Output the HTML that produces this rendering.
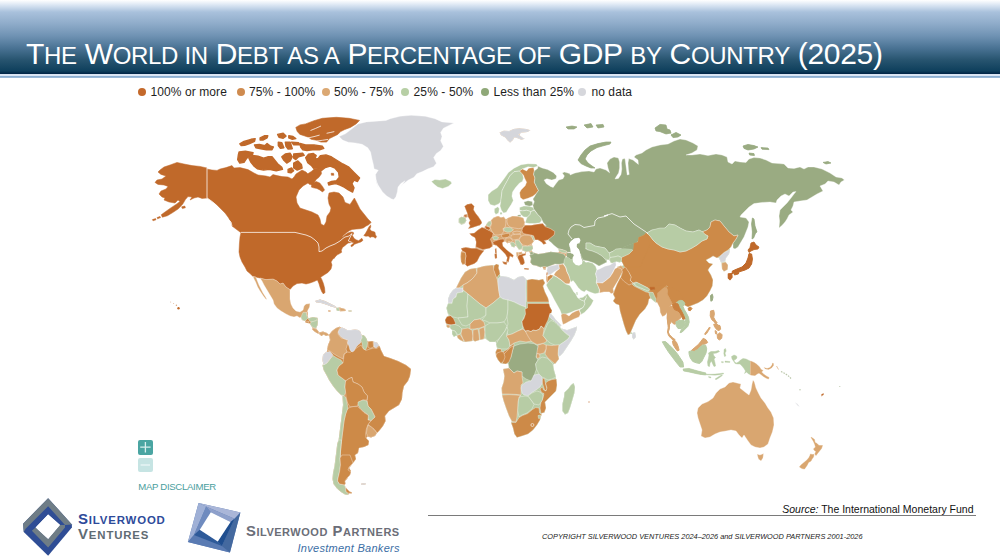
<!DOCTYPE html>
<html><head><meta charset="utf-8">
<style>
html,body{margin:0;padding:0;}
body{width:1000px;height:560px;position:relative;overflow:hidden;background:#fff;font-family:"Liberation Sans",sans-serif;}
#hdr{position:absolute;left:0;top:0;width:1000px;height:74px;background:linear-gradient(to bottom,#ffffff 0px,#dbe6f3 5px,#a9c1dc 12px,#8eabc9 24px,#6f92b3 36px,#4a7394 48px,#27546f 60px,#0e3f5c 71px,#06304f 72.5px,#02284a 73px,#02284a 74px);}
#hline{position:absolute;left:0;top:74px;width:1000px;height:3.8px;background:linear-gradient(to bottom,#dbe6f4 0px,#dbe6f4 1.9px,#8cafd2 2.1px,#8cafd2 3.4px,#c5d7e9 3.8px);}
#title{position:absolute;left:26px;top:36px;white-space:nowrap;color:#fff;font-size:30px;line-height:36px;letter-spacing:-0.33px;}
#title .s{font-size:24px;}
.lg{position:absolute;top:85px;font-size:12px;line-height:14px;color:#1e1e1e;white-space:nowrap;letter-spacing:0.1px;}
.dot{position:absolute;top:88px;width:8px;height:8px;border-radius:50%;}
</style></head>
<body>
<div id="hdr"></div><div id="hline"></div>
<div id="title">T<span class="s">HE</span> W<span class="s">ORLD IN</span> D<span class="s">EBT AS A</span> P<span class="s">ERCENTAGE OF</span> GDP <span class="s">BY</span> C<span class="s">OUNTRY</span> (2025)</div>

<div class="dot" style="left:138.2px;background:#c4692b"></div><div class="lg" style="left:150.4px">100% or more</div>
<div class="dot" style="left:236.7px;background:#cf8b4f"></div><div class="lg" style="left:249.0px">75% - 100%</div>
<div class="dot" style="left:321.8px;background:#dba873"></div><div class="lg" style="left:334.0px">50% - 75%</div>
<div class="dot" style="left:401.0px;background:#b7cfa5"></div><div class="lg" style="left:413.6px">25% - 50%</div>
<div class="dot" style="left:481.0px;background:#8fa878"></div><div class="lg" style="left:493.4px">Less than 25%</div>
<div class="dot" style="left:578.0px;background:#d6d7dc"></div><div class="lg" style="left:591.4px">no data</div>

<svg id="map" width="1000" height="560" viewBox="0 0 1000 560" style="position:absolute;left:0;top:0">
<g stroke="#ffffff" stroke-width="0.45" stroke-opacity="0.75" stroke-linejoin="round">
<path d="M295.8,127.4 L300.0,124.9 L305.6,123.9 L314.0,120.7 L322.4,118.3 L336.4,117.3 L349.0,118.3 L359.5,120.4 L356.0,123.9 L350.4,127.4 L344.8,129.5 L340.6,131.6 L337.8,134.4 L333.6,136.5 L329.4,138.6 L326.6,142.1 L321.0,142.1 L315.4,140.0 L311.2,139.3 L308.4,137.2 L304.2,135.8 L300.0,134.4 L297.2,131.6Z" fill="#c0692a" stroke="#c0692a" stroke-width="0.6" stroke-opacity="1"/>
<path d="M300.0,143.5 L305.6,144.9 L314.0,144.9 L322.4,146.3 L323.8,148.4 L319.6,149.8 L312.6,149.8 L307.0,150.5 L302.8,149.8 L300.7,147.0Z" fill="#c0692a" stroke="#c0692a" stroke-width="1.4" stroke-opacity="1"/>
<path d="M277.6,134.4 L283.2,133.3 L286.0,136.1 L283.2,138.3 L279.0,137.2Z" fill="#c0692a" stroke="#c0692a" stroke-width="1.4" stroke-opacity="1"/>
<path d="M288.8,135.8 L293.0,136.5 L295.8,138.6 L292.3,139.3 L288.8,137.9Z" fill="#c0692a" stroke="#c0692a" stroke-width="1.4" stroke-opacity="1"/>
<path d="M278.3,142.1 L281.8,142.8 L283.9,147.7 L280.4,148.4 L278.3,145.6Z" fill="#c0692a" stroke="#c0692a" stroke-width="1.4" stroke-opacity="1"/>
<path d="M285.3,142.1 L290.2,142.1 L292.3,148.7 L288.1,149.1 L286.0,146.3Z" fill="#c0692a" stroke="#c0692a" stroke-width="1.4" stroke-opacity="1"/>
<path d="M291.6,142.1 L298.6,142.8 L300.0,144.9 L293.7,144.9Z" fill="#c0692a" stroke="#c0692a" stroke-width="1.4" stroke-opacity="1"/>
<path d="M254.5,144.9 L259.4,144.5 L265.0,145.6 L267.1,143.5 L270.6,146.3 L273.4,147.0 L272.0,149.8 L266.4,149.8 L260.8,148.7 L255.9,147.7Z" fill="#c0692a" stroke="#c0692a" stroke-width="1.4" stroke-opacity="1"/>
<path d="M239.8,143.9 L244.0,141.4 L251.0,139.3 L255.2,138.6 L254.5,141.4 L249.6,143.5 L244.7,145.3 L241.2,145.6Z" fill="#c0692a" stroke="#c0692a" stroke-width="1.4" stroke-opacity="1"/>
<path d="M260.1,137.9 L264.3,135.8 L267.8,135.8 L267.1,137.9 L262.9,140.0 L260.1,140.0Z" fill="#c0692a" stroke="#c0692a" stroke-width="1.4" stroke-opacity="1"/>
<path d="M239.1,151.9 L245.4,151.2 L253.1,152.6 L252.4,154.7 L246.8,158.2 L244.0,162.4 L239.8,163.1 L237.7,159.6 L238.4,154.7Z" fill="#c0692a" stroke="#c0692a" stroke-width="1.4" stroke-opacity="1"/>
<path d="M248.9,158.2 L252.4,155.4 L258.0,156.1 L263.6,158.2 L267.8,156.8 L272.0,156.8 L274.8,160.3 L277.6,163.8 L281.8,167.3 L282.5,169.4 L276.2,170.8 L269.2,169.4 L263.6,170.1 L257.3,168.7 L253.8,165.9 L251.0,162.4Z" fill="#c0692a" stroke="#c0692a" stroke-width="1.4" stroke-opacity="1"/>
<path d="M281.8,156.8 L285.3,154.0 L290.2,153.3 L292.3,156.8 L290.2,161.0 L286.7,163.1 L283.9,160.3Z" fill="#c0692a" stroke="#c0692a" stroke-width="1.4" stroke-opacity="1"/>
<path d="M293.7,154.0 L302.8,153.3 L304.2,155.4 L298.6,156.8 L295.8,159.6 L293.7,158.2Z" fill="#c0692a" stroke="#c0692a" stroke-width="1.4" stroke-opacity="1"/>
<path d="M293.7,163.1 L297.9,161.0 L301.4,164.5 L302.1,168.0 L297.2,170.1 L293.7,168.0Z" fill="#c0692a" stroke="#c0692a" stroke-width="1.4" stroke-opacity="1"/>
<path d="M288.1,169.4 L291.6,168.0 L293.7,170.8 L290.9,172.9 L288.1,172.2Z" fill="#c0692a" stroke="#c0692a" stroke-width="1.4" stroke-opacity="1"/>
<path d="M305.7,157.7 L308.5,154.2 L313.4,153.5 L316.2,155.6 L314.8,159.1 L318.3,158.4 L320.4,155.6 L326.0,154.9 L331.6,157.0 L337.2,160.5 L342.8,164.0 L348.4,166.8 L354.0,172.4 L359.6,178.0 L357.5,181.5 L354.0,180.1 L351.9,183.6 L354.0,187.8 L352.6,192.0 L348.4,189.9 L344.2,187.1 L340.0,185.0 L335.8,183.6 L331.6,184.3 L328.8,185.0 L328.1,182.9 L331.6,181.5 L336.5,180.8 L339.3,177.3 L338.6,172.4 L335.1,168.2 L330.2,166.1 L325.3,167.5 L321.8,170.3 L319.7,168.9 L316.9,167.5 L313.4,168.2 L311.3,165.4 L307.8,162.6Z" fill="#c0692a" stroke="#c0692a" stroke-width="1.4" stroke-opacity="1"/>
<path d="M331.1,173.3 L333.6,173.3 L333.9,175.3 L331.4,175.3Z" fill="#c0692a" stroke="#c0692a" stroke-width="0.5" stroke-opacity="1"/>
<path d="M206.6,169.0 L212.0,170.0 L217.0,170.4 L220.0,169.0 L226.0,167.6 L232.0,165.6 L234.0,168.0 L240.0,167.6 L248.0,169.6 L254.0,173.0 L258.0,175.0 L266.0,176.0 L270.0,177.0 L273.0,174.6 L277.0,175.6 L282.0,176.6 L288.0,177.0 L292.0,179.0 L294.0,177.0 L296.0,174.0 L299.0,172.0 L302.0,170.0 L306.0,172.0 L309.0,175.0 L310.0,180.0 L308.0,183.0 L303.0,186.0 L299.0,190.0 L296.0,197.0 L297.0,203.0 L300.0,208.0 L306.0,210.0 L312.0,212.0 L318.0,215.0 L320.0,219.0 L321.0,224.0 L324.0,225.6 L326.0,222.0 L327.0,216.0 L330.0,212.0 L331.0,208.0 L329.0,204.0 L328.0,198.0 L329.0,193.0 L334.0,192.0 L339.0,193.0 L343.0,197.0 L345.0,202.4 L350.0,204.4 L353.0,200.0 L354.4,198.0 L357.0,203.0 L360.0,209.0 L364.0,214.0 L368.0,219.0 L371.0,222.0 L371.0,222.6 L369.0,224.6 L365.8,226.2 L363.4,227.9 L360.2,228.7 L356.1,229.1 L352.1,229.5 L349.3,230.7 L346.5,232.7 L344.1,234.7 L342.5,236.3 L342.9,236.7 L344.9,235.1 L347.7,233.1 L350.9,231.9 L353.3,232.3 L353.7,233.9 L352.1,235.1 L353.3,237.1 L354.5,238.7 L356.5,239.9 L358.6,240.7 L360.2,239.5 L361.8,238.3 L363.0,240.3 L361.0,241.9 L358.6,242.7 L356.5,243.5 L354.5,244.3 L352.9,245.9 L351.3,246.7 L350.9,245.5 L352.5,243.9 L354.1,242.7 L352.1,242.3 L350.1,242.7 L348.1,243.1 L346.5,244.3 L344.5,245.9 L342.5,247.5 L341.3,250.3 L341.7,252.3 L339.7,253.6 L337.3,254.8 L335.3,256.8 L333.7,258.8 L335.0,256.4 L333.0,259.0 L331.0,262.0 L332.0,265.0 L331.0,269.0 L328.0,272.4 L324.0,275.0 L321.0,277.0 L320.6,277.2 L321.8,279.4 L323.4,283.4 L324.6,288.0 L325.0,292.4 L323.4,294.0 L321.8,291.8 L320.2,287.8 L319.0,283.8 L317.4,280.0 L314.0,281.6 L310.0,283.0 L306.0,284.0 L302.0,283.0 L297.0,283.6 L293.0,286.0 L290.0,289.6 L286.0,287.0 L283.0,283.0 L280.0,284.0 L277.0,281.0 L273.0,279.0 L266.0,279.6 L260.0,278.0 L253.0,276.4 L250.0,273.6 L247.0,271.0 L245.0,267.0 L242.0,262.0 L240.0,257.0 L239.0,252.0 L239.4,244.0 L240.0,237.0 L241.0,232.4 L240.0,232.0 L236.0,229.0 L232.0,226.0 L231.0,222.0 L228.0,217.0 L225.0,213.0 L221.0,209.0 L217.0,205.0 L213.0,202.0 L209.0,199.0 L207.0,198.0 L202.0,198.4 L198.0,197.0 L194.0,198.0 L190.0,200.0 L192.0,197.0 L188.0,196.6 L185.4,199.6 L182.8,204.0 L178.4,208.8 L172.4,212.8 L167.4,215.8 L162.4,217.2 L161.2,214.8 L165.0,212.0 L170.0,208.4 L176.0,204.4 L180.0,201.6 L178.0,200.0 L175.0,203.0 L169.0,202.0 L164.0,200.0 L165.0,198.0 L162.0,197.0 L159.0,194.0 L161.0,191.0 L166.0,189.0 L168.0,186.4 L164.0,185.0 L158.0,184.4 L155.0,182.4 L157.0,180.0 L162.0,179.0 L166.0,176.0 L161.0,174.4 L158.0,172.0 L160.0,170.0 L164.0,167.0 L170.0,165.0 L177.0,162.4 L184.0,164.0 L192.0,165.6 L200.0,166.4 L207.0,168.0Z" fill="#c0692a" stroke="#c0692a" stroke-width="0.5" stroke-opacity="1"/>
<path d="M363.8,235.5 L365.4,233.5 L367.0,230.7 L368.2,228.3 L369.4,226.2 L370.6,225.0 L370.8,227.0 L369.8,229.1 L371.4,231.1 L373.4,231.5 L375.0,232.3 L375.4,234.7 L376.6,236.7 L375.4,238.3 L373.8,237.1 L371.8,236.7 L370.2,237.5 L368.2,236.0 L365.8,236.3Z" fill="#c0692a" stroke="#c0692a" stroke-width="0.5" stroke-opacity="1"/>
<path d="M339.1,136.6 L345.4,133.8 L351.0,129.6 L358.0,124.0 L366.4,121.9 L376.2,121.2 L386.0,120.5 L390.2,118.7 L400.0,116.3 L411.2,115.3 L425.2,116.3 L435.0,118.7 L442.0,121.9 L453.9,122.9 L449.0,125.4 L443.4,128.2 L440.6,132.4 L442.0,136.6 L440.6,140.8 L443.4,146.4 L440.6,150.6 L436.4,153.4 L433.6,157.6 L436.4,163.2 L433.6,166.7 L428.0,168.8 L422.4,171.6 L416.8,173.7 L414.0,177.2 L408.4,180.0 L402.8,184.2 L400.0,188.0 L405.0,180.7 L400.8,183.5 L398.0,187.0 L397.3,191.9 L395.9,196.8 L393.8,199.6 L391.7,198.9 L386.8,196.1 L382.6,191.9 L378.4,185.6 L375.6,180.0 L378.3,188.0 L376.2,180.0 L375.5,174.4 L378.3,170.2 L374.1,168.8 L373.4,164.6 L372.0,159.0 L370.6,152.0 L367.8,147.8 L362.2,144.3 L355.2,142.9 L348.2,142.2 L342.6,140.1Z" fill="#d5d6db"/>
<path d="M253.0,276.4 L256.0,277.0 L257.0,280.0 L259.0,285.0 L261.0,289.0 L263.0,293.0 L265.0,296.0 L267.0,299.6 L265.6,299.0 L263.0,295.6 L260.0,291.0 L257.6,287.0 L255.6,282.0 L254.0,279.0Z" fill="#d9a670"/>
<path d="M260.0,278.0 L266.0,279.6 L273.0,279.0 L277.0,281.0 L280.0,284.0 L283.0,283.0 L286.0,287.0 L290.0,289.6 L290.0,295.0 L290.0,299.0 L291.0,304.0 L293.0,308.0 L296.0,311.0 L300.0,312.0 L303.0,310.0 L304.0,306.0 L306.0,304.0 L310.0,303.6 L309.6,307.0 L308.0,310.0 L307.0,312.4 L304.0,313.0 L302.4,316.0 L300.0,318.0 L297.0,316.0 L294.0,317.0 L290.0,316.0 L286.0,314.0 L281.0,311.0 L277.0,308.0 L274.0,304.0 L273.0,300.0 L270.0,295.0 L267.0,290.0 L264.0,285.0 L262.0,281.0Z" fill="#d9a670"/>
<path d="M315.0,301.0 L320.0,299.6 L325.0,301.0 L330.0,303.6 L335.0,306.0 L338.0,308.0 L334.0,307.6 L329.0,305.6 L324.0,303.6 L319.0,302.4Z" fill="#d5d6db"/>
<path d="M431.4,181.5 L434.9,179.4 L439.8,180.1 L445.4,179.1 L451.0,181.5 L451.7,183.6 L448.2,186.4 L442.6,188.5 L437.7,187.1 L434.2,184.3Z" fill="#b7cca5"/>
<path d="M488.1,194.8 L491.6,191.3 L497.2,187.8 L501.4,182.2 L505.6,176.6 L508.4,172.4 L514.0,168.2 L521.0,164.7 L528.0,163.7 L536.4,164.0 L537.8,166.1 L533.6,167.5 L528.0,166.8 L522.4,168.9 L519.6,171.0 L514.0,171.7 L509.8,175.9 L507.7,180.1 L504.9,185.0 L502.1,190.6 L501.4,196.2 L500.7,201.8 L498.6,203.9 L494.4,205.7 L490.2,204.6 L488.1,200.4Z" fill="#b7cca5"/>
<path d="M501.4,196.2 L502.1,190.6 L504.9,185.0 L507.7,180.1 L509.8,175.9 L514.0,171.7 L519.6,171.0 L522.4,173.8 L523.5,178.0 L522.4,181.5 L519.6,182.9 L515.4,187.8 L512.6,192.0 L511.9,196.2 L513.3,200.4 L511.2,204.6 L508.4,208.8 L506.3,212.3 L503.5,213.0 L501.4,210.2 L500.0,206.0 L500.7,201.8Z" fill="#b7cca5"/>
<path d="M519.6,171.0 L522.4,168.9 L526.6,171.0 L528.7,168.2 L533.6,167.5 L534.3,171.0 L533.6,174.5 L535.0,178.0 L534.3,182.2 L536.4,186.4 L538.5,190.6 L536.4,193.4 L532.9,196.2 L528.0,198.3 L523.1,199.7 L520.3,197.6 L519.6,192.7 L521.0,189.9 L525.2,185.7 L526.6,182.2 L524.5,178.0 L523.5,175.2Z" fill="#cd8a48"/>
<path d="M523.8,202.1 L528.0,200.7 L532.2,201.5 L532.9,205.3 L529.4,206.3 L525.2,205.3Z" fill="#9aab82"/>
<path d="M519.6,207.4 L523.8,206.0 L529.4,206.3 L533.3,207.4 L534.3,210.2 L530.8,211.6 L526.6,210.2 L522.4,210.9 L519.6,210.2Z" fill="#b7cca5"/>
<path d="M519.6,210.9 L523.1,210.9 L526.6,210.2 L530.8,211.6 L530.1,214.4 L527.3,217.2 L523.8,216.9 L520.7,214.4Z" fill="#b7cca5"/>
<path d="M530.8,211.6 L534.3,210.2 L537.8,214.4 L540.6,217.2 L542.0,220.0 L539.9,222.8 L535.0,223.5 L529.4,223.5 L525.2,222.8 L526.6,218.6 L527.3,217.2 L530.1,214.4Z" fill="#b7cca5"/>
<path d="M517.5,215.1 L520.7,214.7 L521.0,216.5 L517.9,216.5Z" fill="#9aab82"/>
<path d="M494.4,208.8 L497.9,206.7 L499.3,208.8 L498.6,213.0 L495.8,214.4 L494.4,212.3Z" fill="#b7cca5"/>
<path d="M500.0,212.3 L502.1,212.3 L502.1,214.4 L500.0,214.4Z" fill="#b7cca5"/>
<path d="M464.3,215.1 L467.1,214.7 L467.5,216.9 L465.0,217.2Z" fill="#c0692a" stroke="#c0692a" stroke-width="0.5" stroke-opacity="1"/>
<path d="M458.7,219.3 L461.5,217.2 L465.0,217.5 L466.1,220.0 L465.0,223.5 L461.5,224.9 L458.7,222.8Z" fill="#b7cca5"/>
<path d="M157.0,217.6 L160.0,216.4 L160.6,217.6 L157.6,218.8Z" fill="#c0692a" stroke="#c0692a" stroke-width="0.5" stroke-opacity="1"/>
<path d="M152.4,219.6 L155.6,218.6 L156.0,219.8 L153.0,220.8Z" fill="#c0692a" stroke="#c0692a" stroke-width="0.5" stroke-opacity="1"/>
<path d="M181.6,206.8 L184.8,206.0 L185.4,207.8 L182.4,208.6Z" fill="#c0692a" stroke="#c0692a" stroke-width="0.5" stroke-opacity="1"/>
<path d="M312.0,183.6 L316.2,181.5 L319.7,182.9 L322.5,186.4 L324.6,189.9 L322.5,192.0 L319.7,189.9 L316.9,188.5 L313.4,187.8 L311.3,187.1Z" fill="#c0692a" stroke="#c0692a" stroke-width="0.5" stroke-opacity="1"/>
<path d="M305.0,178.0 L307.8,173.8 L312.0,171.0 L314.8,168.2 L318.3,167.9 L321.1,170.3 L321.5,173.8 L319.0,177.3 L316.2,179.4 L314.5,182.2 L312.0,185.0 L309.2,184.3 L306.7,181.5Z" fill="#c0692a" stroke="#c0692a" stroke-width="0.5" stroke-opacity="1"/>
<path d="M537.8,166.1 L542.0,167.9 L547.6,169.6 L553.2,172.4 L556.7,175.9 L556.0,178.7 L551.8,180.1 L546.9,178.7 L544.1,180.1 L546.2,183.6 L550.4,186.4 L553.2,187.5 L556.0,183.6 L558.8,180.1 L563.0,178.7 L564.4,175.9 L562.3,173.1 L564.4,172.1 L567.9,173.1 L570.0,173.8 L570.0,175.0 L575.0,173.0 L582.0,171.6 L589.0,171.0 L594.0,172.0 L596.0,169.0 L600.0,168.0 L606.0,170.0 L609.6,172.8 L608.0,168.0 L607.0,163.0 L610.0,159.0 L614.0,157.0 L618.4,158.0 L619.6,162.0 L619.6,168.0 L618.6,173.0 L616.0,177.0 L615.0,179.0 L618.4,178.4 L621.0,174.4 L621.8,169.0 L621.4,163.0 L622.4,159.0 L625.0,158.6 L625.6,163.0 L626.4,169.0 L627.2,175.0 L629.2,174.4 L628.4,169.0 L628.0,163.0 L628.8,158.6 L633.0,160.0 L636.0,162.4 L638.4,164.4 L638.0,160.0 L634.0,157.0 L636.0,155.0 L642.0,153.0 L646.0,150.0 L652.0,147.0 L660.0,145.0 L668.0,144.0 L674.0,141.0 L680.0,139.0 L686.0,140.0 L693.0,143.0 L698.0,146.0 L697.0,150.0 L692.0,153.0 L686.0,155.0 L692.0,155.0 L700.0,154.0 L708.0,155.6 L716.0,154.0 L722.0,155.0 L727.0,157.0 L728.0,162.0 L732.0,164.0 L735.0,161.0 L740.0,162.0 L746.0,162.4 L749.0,159.0 L754.0,157.6 L760.0,158.0 L766.0,160.0 L772.0,163.0 L779.0,163.6 L784.0,164.0 L788.0,168.0 L794.0,168.4 L800.0,167.0 L804.0,169.0 L808.0,167.0 L814.0,167.0 L822.0,169.0 L830.0,173.0 L836.0,177.0 L842.0,178.0 L844.4,180.0 L841.0,182.0 L839.0,185.0 L834.0,182.0 L828.0,181.0 L825.0,184.0 L820.0,186.0 L823.0,191.0 L817.0,194.0 L812.0,197.0 L807.0,200.0 L800.0,201.0 L794.0,202.0 L793.0,206.0 L791.0,210.0 L793.0,212.0 L789.0,215.0 L787.0,219.0 L785.0,222.0 L782.4,225.0 L779.0,228.0 L779.6,221.0 L779.0,216.0 L780.0,210.0 L783.0,207.0 L787.0,203.0 L791.0,198.0 L794.0,194.0 L796.0,191.6 L793.0,192.0 L789.0,196.0 L785.0,194.0 L781.0,196.0 L777.0,200.0 L776.0,203.0 L770.0,202.0 L762.0,202.4 L754.0,203.6 L749.0,207.0 L745.0,211.0 L741.0,215.0 L740.0,217.0 L746.0,218.0 L749.0,222.0 L748.0,227.0 L746.0,232.0 L744.0,237.0 L741.0,242.0 L738.0,247.0 L735.0,249.0 L733.0,248.0 L733.0,243.0 L736.0,239.0 L738.0,235.0 L734.0,236.0 L729.0,232.0 L724.0,226.0 L720.0,221.0 L715.0,220.0 L711.0,222.0 L710.0,227.0 L707.0,230.0 L702.0,232.0 L699.0,230.0 L693.0,232.0 L686.0,231.0 L680.0,228.0 L675.0,225.0 L669.0,224.0 L665.0,228.0 L660.0,230.0 L652.0,230.0 L647.0,233.0 L644.0,237.0 L640.0,239.0 L637.0,243.0 L636.0,248.0 L630.0,249.0 L624.0,251.0 L619.0,250.0 L614.0,251.0 L609.0,253.0 L605.0,248.0 L600.0,247.0 L595.0,246.0 L590.0,243.0 L586.0,243.0 L586.0,248.0 L582.0,249.0 L579.0,243.0 L580.0,241.0 L579.0,238.0 L574.0,239.0 L570.0,243.0 L570.2,247.6 L570.9,252.5 L566.7,252.1 L562.5,249.7 L558.3,248.7 L554.1,245.5 L550.6,242.0 L548.5,240.6 L549.2,236.4 L542.9,225.2 L546.2,225.6 L543.4,222.8 L542.0,220.0 L540.6,217.2 L537.8,214.4 L535.7,211.6 L533.6,208.8 L532.9,205.3 L534.3,201.8 L532.9,199.0 L534.3,196.9 L536.4,193.4 L538.5,190.6 L536.4,186.4 L534.3,182.2 L535.0,178.0 L533.6,174.5 L534.3,171.0 L537.8,168.2Z" fill="#9aab82"/>
<path d="M461.0,251.8 L461.0,251.8 L460.7,256.7 L460.7,256.7 L461.0,261.6 L461.0,261.6 L461.0,261.6 L462.4,264.4 L462.4,264.4 L462.4,264.4 L464.3,264.2 L464.5,264.2 L464.6,264.2 L464.7,264.2 L464.8,264.3 L465.0,264.3 L465.1,264.4 L465.2,264.4 L465.3,264.5 L465.4,264.6 L467.3,266.5 L467.3,266.5 L467.3,266.5 L470.8,265.1 L474.3,263.7 L474.3,263.7 L474.3,263.7 L477.1,261.6 L477.1,261.6 L477.1,261.6 L479.8,256.1 L479.9,256.0 L480.0,255.9 L482.0,253.2 L482.0,253.2 L484.1,250.7 L484.1,250.7 L484.1,250.7 L484.1,250.5 L484.1,250.4 L484.1,250.3 L484.1,250.1 L484.2,250.0 L484.2,249.9 L484.3,249.8 L484.4,249.7 L484.5,249.6 L484.5,249.5 L484.7,249.4 L484.8,249.3 L484.9,249.3 L485.0,249.2 L485.1,249.2 L489.7,248.3 L489.7,248.3 L489.7,248.3 L492.5,246.2 L492.5,246.2 L492.5,246.2 L492.5,246.0 L492.5,245.9 L492.5,245.8 L492.6,245.7 L492.6,245.6 L492.7,245.4 L492.8,245.3 L492.8,245.2 L492.9,245.1 L493.0,245.1 L493.1,245.0 L493.2,244.9 L493.4,244.9 L493.5,244.9 L493.6,244.8 L493.7,244.8 L493.9,244.8 L494.0,244.8 L494.1,244.9 L496.4,245.4 L496.5,245.4 L496.6,245.5 L496.7,245.5 L496.8,245.6 L496.9,245.7 L497.0,245.8 L497.3,246.1 L497.4,246.2 L497.4,246.3 L497.5,246.4 L497.6,246.5 L497.6,246.6 L497.6,246.7 L497.7,246.9 L497.7,246.9 L497.7,246.9 L497.8,246.9 L498.0,247.0 L498.1,247.0 L498.2,247.1 L498.3,247.1 L498.4,247.2 L498.5,247.3 L499.5,248.3 L502.3,251.1 L505.0,253.8 L505.1,253.9 L505.2,254.0 L506.9,257.0 L507.0,257.1 L507.0,257.2 L507.1,257.3 L507.1,257.4 L507.1,257.5 L507.1,257.7 L507.1,257.8 L507.1,257.9 L506.5,260.9 L506.5,260.9 L506.5,261.0 L506.4,261.1 L506.4,261.3 L506.3,261.4 L506.3,261.5 L506.2,261.6 L506.1,261.7 L506.0,261.7 L505.9,261.8 L505.8,261.9 L505.7,261.9 L505.5,262.0 L505.4,262.0 L505.3,262.0 L505.2,262.0 L505.0,262.0 L502.3,261.6 L502.3,261.6 L502.3,261.6 L503.7,264.1 L503.7,264.1 L503.7,264.1 L506.5,264.7 L506.5,264.7 L506.5,264.6 L506.9,263.2 L507.0,263.0 L507.0,262.9 L507.1,262.8 L507.2,262.7 L507.3,262.6 L507.3,262.5 L507.4,262.5 L507.5,262.4 L507.7,262.3 L507.8,262.3 L507.9,262.3 L508.0,262.2 L508.1,262.2 L508.3,262.2 L508.4,262.2 L508.5,262.3 L508.6,262.3 L508.6,262.3 L508.6,262.3 L509.3,258.8 L509.3,258.8 L509.6,257.6 L509.6,257.4 L509.7,257.3 L509.8,257.2 L509.8,257.1 L509.9,257.0 L510.0,256.9 L510.1,256.8 L510.2,256.8 L510.3,256.7 L510.4,256.7 L510.6,256.6 L510.7,256.6 L510.8,256.6 L511.0,256.6 L511.1,256.6 L511.2,256.6 L511.3,256.7 L511.4,256.7 L512.8,257.4 L512.8,257.4 L512.8,257.4 L513.5,255.3 L513.5,255.3 L513.5,255.3 L506.6,249.7 L506.4,249.6 L503.3,246.5 L503.2,246.4 L503.1,246.3 L503.1,246.2 L503.0,246.1 L503.0,245.9 L502.9,245.8 L502.5,243.6 L502.5,243.4 L502.4,243.3 L502.5,243.2 L502.5,243.0 L502.5,242.9 L502.5,242.8 L502.6,242.7 L502.7,242.6 L502.7,242.5 L502.8,242.4 L502.9,242.3 L503.0,242.2 L504.0,241.6 L504.1,241.5 L504.2,241.5 L504.3,241.4 L504.5,241.4 L504.6,241.4 L504.7,241.4 L504.8,241.4 L505.0,241.4 L505.1,241.4 L505.2,241.5 L505.3,241.5 L505.4,241.6 L505.6,241.7 L505.6,241.8 L505.7,241.9 L505.8,242.0 L505.8,242.0 L505.8,242.0 L507.9,243.4 L507.9,243.4 L507.9,243.3 L507.9,243.3 L508.0,243.2 L508.1,243.1 L508.2,243.0 L508.2,242.9 L508.4,242.9 L508.5,242.8 L508.6,242.7 L508.7,242.7 L508.8,242.7 L509.0,242.6 L509.1,242.6 L509.2,242.6 L509.3,242.6 L509.5,242.7 L509.6,242.7 L509.7,242.8 L509.8,242.8 L509.9,242.9 L510.0,243.0 L510.1,243.1 L510.2,243.2 L510.2,243.3 L510.3,243.4 L511.4,246.2 L511.4,246.2 L511.4,246.2 L514.2,247.6 L514.2,247.6 L514.2,247.6 L514.6,246.8 L514.7,246.7 L514.7,246.6 L514.8,246.5 L514.9,246.4 L515.0,246.3 L515.1,246.2 L515.2,246.2 L515.3,246.1 L515.5,246.1 L515.6,246.1 L515.7,246.1 L515.8,246.1 L516.0,246.1 L516.1,246.1 L516.2,246.1 L516.3,246.2 L516.4,246.2 L516.5,246.3 L516.6,246.4 L516.7,246.5 L516.8,246.6 L516.9,246.7 L516.9,246.8 L517.0,246.9 L517.0,246.9 L517.0,246.9 L519.1,249.7 L519.1,249.7 L519.1,249.7 L519.1,249.7 L521.0,249.2 L521.1,249.2 L521.2,249.2 L521.4,249.2 L521.5,249.2 L521.6,249.2 L521.7,249.3 L521.9,249.3 L522.0,249.4 L522.1,249.4 L522.2,249.5 L522.3,249.6 L522.3,249.7 L522.4,249.8 L522.5,249.9 L522.5,250.1 L522.6,250.2 L522.6,250.3 L522.6,250.4 L522.6,250.4 L522.6,250.5 L522.6,250.6 L522.6,250.8 L522.6,250.9 L522.6,251.0 L522.7,250.9 L522.8,250.9 L522.9,250.8 L523.0,250.8 L523.1,250.8 L523.3,250.8 L523.4,250.8 L523.5,250.8 L523.6,250.8 L523.8,250.9 L524.5,251.2 L524.6,251.2 L524.8,251.3 L524.9,251.4 L525.0,251.4 L525.0,251.5 L525.1,251.6 L525.2,251.8 L525.2,251.9 L525.3,252.0 L525.3,252.1 L525.3,252.2 L525.3,252.4 L525.3,252.5 L525.3,252.6 L525.3,252.7 L525.3,252.9 L525.2,253.0 L525.1,253.1 L525.1,253.2 L525.0,253.3 L524.9,253.4 L524.8,253.5 L524.7,253.5 L524.5,253.6 L524.4,253.6 L524.3,253.7 L524.2,253.7 L523.5,253.7 L523.4,253.7 L523.2,253.7 L523.1,253.7 L523.0,253.7 L522.9,253.6 L522.7,253.6 L522.6,253.5 L522.5,253.5 L522.4,253.4 L522.4,253.3 L522.3,253.2 L522.2,253.1 L522.2,252.9 L522.1,252.8 L522.1,252.7 L522.0,252.3 L522.0,252.2 L522.0,252.1 L522.0,251.9 L522.0,251.8 L522.0,251.7 L522.0,251.7 L522.0,251.7 L521.9,251.7 L521.8,251.8 L521.7,251.8 L521.6,251.9 L519.2,252.3 L519.1,252.4 L518.9,252.4 L518.8,252.4 L518.7,252.3 L518.6,252.3 L518.4,252.3 L518.3,252.2 L518.2,252.2 L518.1,252.1 L518.1,252.1 L518.1,252.1 L516.3,252.5 L516.3,252.5 L516.3,252.5 L516.7,256.7 L516.7,256.7 L516.7,256.7 L516.8,256.7 L516.9,256.8 L517.1,256.8 L517.2,256.9 L517.3,257.0 L517.3,257.1 L517.4,257.2 L517.5,257.3 L517.6,257.4 L517.6,257.5 L517.6,257.6 L517.7,257.7 L517.7,257.8 L517.7,258.0 L517.7,258.1 L517.7,258.1 L517.7,258.1 L519.1,260.9 L519.1,261.0 L520.5,264.4 L520.5,264.4 L520.5,264.4 L522.6,265.1 L522.6,265.1 L522.6,265.1 L524.7,263.0 L524.7,263.0 L524.7,263.0 L524.0,259.5 L524.0,259.5 L524.0,259.5 L523.2,257.4 L523.1,257.3 L523.1,257.1 L523.1,257.0 L523.1,256.9 L523.1,256.7 L523.1,256.6 L523.1,256.5 L523.2,256.4 L523.2,256.3 L523.3,256.1 L523.4,256.0 L523.5,255.9 L523.6,255.9 L523.7,255.8 L523.8,255.7 L523.9,255.7 L524.0,255.6 L525.4,255.3 L525.4,255.3 L525.4,255.3 L526.1,253.5 L526.1,253.5 L526.1,253.4 L526.1,253.4 L526.0,253.3 L526.0,253.2 L526.0,253.0 L526.0,252.9 L526.0,252.8 L526.0,252.6 L526.1,252.5 L526.1,252.4 L526.2,252.3 L526.2,252.2 L526.3,252.1 L526.4,252.0 L526.5,251.9 L526.6,251.8 L526.7,251.8 L526.8,251.7 L527.0,251.7 L527.1,251.7 L528.2,251.5 L528.3,251.5 L528.4,251.5 L528.5,251.5 L528.7,251.5 L528.8,251.6 L528.9,251.6 L529.0,251.7 L529.1,251.8 L529.2,251.9 L529.3,252.0 L529.4,252.1 L529.5,252.2 L529.5,252.3 L529.6,252.4 L529.6,252.5 L529.6,252.5 L529.6,252.5 L530.1,253.6 L530.2,253.7 L530.2,253.8 L530.2,254.0 L530.2,254.1 L530.2,254.2 L530.2,254.3 L530.2,254.5 L530.2,254.6 L530.1,254.7 L530.1,254.8 L530.0,254.9 L529.9,255.0 L529.8,255.1 L529.8,255.2 L529.6,255.3 L529.6,255.3 L529.6,255.3 L530.9,258.4 L530.9,258.6 L530.9,258.7 L530.9,258.8 L530.9,258.9 L530.9,259.1 L530.9,259.2 L530.3,262.3 L530.3,262.3 L530.3,262.3 L532.4,265.1 L532.4,265.1 L532.4,265.1 L536.5,265.8 L536.6,265.8 L536.7,265.9 L540.1,267.2 L540.1,267.2 L540.1,267.2 L541.6,267.0 L541.7,266.9 L541.8,266.9 L541.9,267.0 L542.1,267.0 L542.2,267.0 L542.3,267.1 L542.4,267.1 L542.5,267.2 L542.6,267.3 L542.7,267.4 L542.8,267.5 L542.9,267.6 L542.9,267.7 L543.0,267.8 L543.0,267.9 L543.1,268.1 L543.1,268.2 L543.1,268.3 L543.1,268.4 L543.0,268.6 L543.0,268.7 L542.9,268.8 L542.9,268.8 L542.9,268.9 L542.9,268.9 L545.2,269.7 L545.3,269.7 L545.3,269.7 L545.7,268.4 L545.7,268.3 L545.7,268.3 L545.7,268.2 L545.7,268.1 L545.8,267.9 L545.8,267.8 L545.9,267.7 L545.9,267.6 L546.0,267.5 L546.1,267.4 L546.2,267.3 L546.3,267.3 L546.4,267.2 L546.5,267.2 L546.6,267.1 L546.8,267.1 L546.9,267.1 L547.0,267.1 L547.1,267.1 L547.3,267.1 L547.8,267.2 L547.8,267.2 L547.8,267.2 L550.6,265.8 L550.7,265.8 L554.5,264.2 L554.6,264.2 L554.7,264.2 L554.9,264.1 L555.0,264.1 L555.1,264.1 L559.0,264.4 L559.0,264.4 L559.0,264.4 L563.2,263.7 L563.2,263.7 L563.2,263.7 L566.7,261.6 L566.7,261.6 L566.7,261.6 L565.5,259.2 L565.4,259.1 L565.4,259.0 L565.4,258.9 L565.4,258.7 L565.4,258.6 L565.4,258.5 L565.4,258.4 L565.6,257.1 L565.7,257.0 L565.7,256.9 L565.8,256.8 L565.8,256.7 L565.9,256.6 L566.0,256.5 L566.1,256.4 L566.2,256.3 L566.3,256.2 L566.4,256.2 L566.5,256.1 L566.6,256.1 L566.7,256.1 L566.8,256.1 L566.9,256.1 L567.1,256.1 L567.2,256.1 L567.3,256.1 L567.5,256.2 L567.6,256.2 L567.7,256.3 L567.8,256.4 L567.9,256.4 L568.0,256.5 L568.1,256.6 L568.1,256.7 L568.1,256.7 L568.1,256.7 L570.9,257.4 L570.9,257.4 L570.9,257.4 L573.0,255.3 L573.0,255.3 L573.0,255.3 L570.2,253.2 L570.2,253.2 L570.2,253.2 L567.7,252.7 L567.6,252.7 L567.5,252.6 L567.3,252.6 L567.2,252.5 L567.1,252.4 L567.0,252.3 L566.9,252.2 L566.9,252.1 L566.8,252.0 L566.8,251.9 L566.7,251.8 L566.7,251.7 L566.7,251.5 L566.7,251.4 L566.7,251.3 L566.7,251.1 L566.7,251.1 L566.7,251.1 L562.5,249.7 L562.5,249.7 L562.5,249.7 L558.3,249.0 L558.3,249.0 L558.3,249.0 L558.9,250.8 L558.9,250.9 L559.0,251.0 L559.0,251.2 L559.0,251.3 L558.9,251.4 L558.9,251.6 L558.9,251.7 L558.8,251.8 L558.8,251.9 L558.7,252.0 L558.6,252.1 L558.5,252.2 L558.4,252.3 L558.3,252.3 L558.2,252.4 L558.0,252.4 L557.9,252.5 L557.8,252.5 L557.7,252.5 L557.5,252.5 L550.6,251.8 L550.6,251.8 L550.6,251.8 L543.6,253.2 L543.6,253.2 L538.3,253.9 L538.1,253.9 L538.0,253.9 L537.9,253.9 L537.7,253.8 L533.4,252.6 L533.3,252.5 L533.2,252.5 L533.1,252.4 L533.0,252.4 L532.9,252.3 L532.8,252.2 L532.7,252.1 L532.6,252.0 L532.6,251.9 L532.4,251.5 L532.4,251.5 L532.4,251.5 L532.3,251.4 L532.2,251.4 L532.1,251.3 L532.0,251.2 L532.0,251.1 L531.9,251.0 L531.9,250.8 L531.9,250.7 L531.8,250.6 L531.8,250.5 L531.8,250.3 L531.8,250.2 L531.9,250.1 L531.9,250.0 L532.0,249.9 L532.0,249.8 L532.1,249.7 L533.1,248.3 L533.1,248.3 L533.1,248.3 L532.4,245.5 L532.4,245.5 L532.4,245.5 L532.3,245.4 L532.2,245.3 L532.1,245.2 L532.0,245.1 L532.0,245.0 L531.9,244.9 L531.9,244.8 L531.8,244.7 L531.8,244.6 L531.8,244.4 L531.8,244.3 L531.8,244.2 L531.8,244.1 L531.9,243.9 L531.9,243.8 L532.0,243.7 L532.1,243.6 L533.8,241.3 L533.8,241.3 L533.8,241.2 L533.8,241.1 L533.8,241.0 L533.9,240.9 L533.9,240.8 L534.0,240.6 L534.1,240.5 L534.2,240.4 L534.3,240.4 L534.4,240.3 L534.5,240.2 L534.6,240.2 L535.0,240.0 L535.1,240.0 L535.2,239.9 L535.3,239.9 L535.5,239.9 L537.6,239.9 L537.8,239.9 L537.9,239.9 L538.0,239.9 L538.1,240.0 L538.2,240.0 L538.3,240.1 L541.3,241.9 L541.4,242.0 L541.5,242.1 L541.6,242.2 L543.6,244.5 L543.6,244.5 L543.6,244.5 L546.4,243.4 L546.4,243.4 L546.4,243.4 L545.5,242.3 L545.5,242.1 L545.4,242.0 L545.4,241.9 L545.3,241.8 L545.3,241.7 L545.3,241.6 L545.3,241.4 L545.3,241.3 L545.3,241.2 L545.3,241.1 L545.4,240.9 L545.4,240.8 L545.5,240.7 L545.6,240.6 L545.7,240.5 L545.8,240.5 L545.9,240.4 L546.0,240.3 L546.1,240.3 L546.2,240.2 L546.3,240.2 L547.8,239.9 L547.8,239.9 L547.8,239.9 L550.6,237.8 L550.6,237.8 L554.1,235.0 L554.1,235.0 L554.1,235.0 L554.8,231.5 L554.8,231.5 L554.8,231.5 L550.6,228.7 L550.6,228.7 L550.6,228.7 L545.4,226.7 L545.3,226.7 L545.1,226.6 L545.0,226.5 L544.9,226.5 L544.8,226.4 L544.8,226.3 L542.9,223.5 L542.9,223.5 L542.9,223.5 L538.0,224.1 L538.0,224.1 L531.1,225.2 L531.0,225.2 L530.9,225.2 L525.7,225.2 L525.6,225.2 L525.5,225.2 L525.3,225.1 L525.2,225.1 L525.1,225.0 L525.0,225.0 L524.9,224.9 L524.8,224.8 L524.7,224.7 L524.6,224.6 L524.6,224.5 L524.5,224.4 L524.5,224.3 L524.5,224.2 L524.4,224.0 L524.4,223.9 L524.4,223.8 L524.5,223.6 L524.7,222.4 L524.7,222.4 L524.7,222.4 L523.3,218.0 L523.3,217.9 L523.3,217.9 L518.4,216.5 L518.4,216.5 L518.4,216.5 L512.8,216.1 L512.8,216.1 L512.8,216.1 L507.2,218.2 L507.2,218.2 L507.2,218.2 L507.1,218.3 L507.1,218.4 L507.0,218.5 L506.9,218.6 L506.8,218.7 L506.7,218.8 L506.6,218.9 L506.5,218.9 L506.3,219.0 L506.2,219.0 L506.1,219.0 L506.0,219.0 L505.8,219.0 L505.7,219.0 L505.6,218.9 L505.5,218.9 L505.3,218.8 L505.2,218.8 L505.1,218.7 L505.0,218.6 L505.0,218.5 L503.7,216.8 L503.7,216.8 L503.7,216.8 L501.4,217.4 L501.2,217.4 L501.1,217.4 L501.0,217.4 L500.8,217.4 L500.7,217.4 L500.6,217.3 L500.5,217.3 L498.1,216.1 L498.1,216.1 L498.1,216.1 L493.9,217.5 L493.9,217.5 L493.9,217.5 L491.1,220.3 L491.1,220.3 L491.1,220.3 L491.0,220.4 L491.0,220.5 L490.9,220.6 L490.8,220.7 L490.7,220.8 L490.6,220.9 L490.5,220.9 L490.4,221.0 L488.3,221.7 L488.3,221.7 L488.3,221.7 L486.2,224.5 L486.2,224.5 L486.2,224.5 L486.2,224.6 L486.2,224.7 L486.2,224.8 L486.2,225.0 L486.1,225.1 L486.1,225.2 L486.0,225.3 L485.9,225.4 L485.8,225.5 L485.8,225.6 L485.7,225.7 L485.6,225.7 L485.4,225.8 L485.3,225.8 L485.2,225.9 L485.1,225.9 L485.0,225.9 L484.8,225.9 L484.8,225.9 L484.8,225.9 L484.9,226.1 L484.9,226.3 L484.9,226.4 L484.9,226.5 L484.9,226.6 L484.9,226.8 L484.8,226.9 L484.8,227.0 L484.7,227.1 L484.7,227.2 L484.6,227.3 L484.5,227.4 L484.4,227.5 L484.3,227.6 L484.2,227.6 L484.1,227.7 L483.9,227.7 L483.8,227.7 L483.7,227.8 L483.6,227.8 L483.4,227.8 L483.3,227.7 L483.2,227.7 L482.0,227.3 L482.0,227.3 L482.0,227.3 L477.8,230.1 L477.8,230.1 L474.6,232.7 L474.5,232.8 L474.3,232.8 L474.2,232.9 L474.1,232.9 L473.9,233.0 L469.4,233.6 L469.4,233.6 L469.4,233.6 L471.5,235.7 L471.5,235.7 L471.5,235.7 L474.5,237.5 L474.7,237.6 L474.7,237.7 L474.8,237.8 L474.9,237.9 L475.0,238.0 L475.0,238.1 L475.1,238.2 L475.1,238.3 L476.1,241.8 L476.1,241.9 L476.1,242.0 L476.1,242.1 L476.1,242.2 L475.7,246.9 L475.7,246.9 L475.7,246.9 L475.7,247.0 L475.7,247.2 L475.7,247.3 L475.6,247.4 L475.6,247.5 L475.5,247.6 L475.5,247.7 L475.4,247.8 L475.3,247.9 L475.2,248.0 L475.1,248.1 L475.0,248.2 L474.9,248.2 L474.8,248.2 L474.7,248.3 L474.5,248.3 L474.4,248.3 L471.6,248.3 L471.5,248.3 L471.4,248.3 L465.9,247.3 L465.9,247.3 L465.9,247.3 L461.0,248.3 L461.0,248.3 L461.0,248.3 L461.8,250.0 L461.9,250.1 L461.9,250.2 L461.9,250.3 L462.0,250.4 L462.0,250.6 L462.0,250.7 L461.9,250.8 L461.9,250.9 L461.9,251.1 L461.8,251.2 L461.7,251.3 L461.7,251.4 L461.6,251.5 L461.5,251.6 L461.4,251.6 L461.3,251.7 L461.1,251.8 L461.0,251.8ZM496.3,248.3 L496.3,248.3 L496.3,248.3 L494.9,249.0 L494.9,249.0 L494.9,249.0 L495.2,252.7 L495.2,252.8 L495.2,253.0 L495.2,253.1 L495.1,253.2 L495.1,253.3 L495.0,253.4 L495.0,253.6 L494.9,253.7 L494.8,253.7 L494.7,253.8 L494.6,253.9 L494.6,253.9 L494.6,253.9 L495.0,258.8 L495.0,258.8 L495.1,258.8 L497.1,258.1 L497.1,258.1 L497.1,258.1 L496.7,253.2 L496.7,253.2 L496.7,253.2 L496.7,253.0 L496.7,252.9 L496.7,252.8 L496.7,252.7 L496.7,252.5 L496.7,252.5 L496.7,252.5 L496.3,248.3ZM499.6,132.4 L499.6,132.4 L501.0,135.2 L501.0,135.2 L501.0,135.2 L504.9,137.2 L505.0,137.2 L505.1,137.3 L505.2,137.4 L505.3,137.5 L505.4,137.5 L507.3,140.1 L507.3,140.1 L507.3,140.1 L510.1,142.5 L510.1,142.5 L510.1,142.5 L512.9,140.1 L512.9,140.1 L512.9,140.1 L513.8,138.2 L513.9,138.1 L514.0,138.0 L514.0,137.9 L514.1,137.8 L514.2,137.8 L514.3,137.7 L514.5,137.6 L514.6,137.6 L514.7,137.6 L514.8,137.5 L514.9,137.5 L515.1,137.5 L515.2,137.5 L515.3,137.6 L517.0,138.0 L517.2,138.0 L521.3,139.7 L521.3,139.7 L521.3,139.7 L524.8,138.7 L524.8,138.7 L524.8,138.7 L522.1,137.4 L522.0,137.3 L521.9,137.2 L520.0,135.7 L519.9,135.6 L519.8,135.5 L519.7,135.4 L519.6,135.3 L519.6,135.2 L519.5,135.1 L519.5,134.9 L519.5,134.8 L519.5,134.7 L519.5,134.6 L519.5,134.4 L519.5,134.3 L519.6,134.2 L519.6,134.1 L519.7,134.0 L519.7,133.9 L519.8,133.8 L519.9,133.7 L520.0,133.6 L520.1,133.5 L521.7,132.6 L521.8,132.5 L522.0,132.5 L522.1,132.4 L522.2,132.4 L522.3,132.4 L527.6,132.1 L527.6,132.1 L527.6,132.1 L530.4,130.3 L530.4,130.3 L530.4,130.3 L526.2,128.9 L526.2,128.9 L526.2,128.9 L519.2,128.2 L519.2,128.2 L519.2,128.2 L513.6,128.9 L513.6,128.9 L513.6,128.9 L509.7,130.8 L509.6,130.9 L509.5,130.9 L509.3,131.0 L509.2,131.0 L509.1,131.0 L503.8,130.7 L503.8,130.7 L503.8,130.7 L499.6,132.4ZM524.0,267.9 L524.0,267.9 L524.3,269.3 L524.3,269.3 L524.3,269.3 L528.4,269.7 L528.5,269.7 L528.5,269.7 L528.9,268.6 L528.9,268.6 L528.9,268.6 L524.0,267.9ZM458.9,218.2 L458.9,218.2 L458.9,222.4 L458.9,222.4 L458.9,222.4 L461.7,224.1 L461.7,224.1 L461.7,224.1 L464.9,223.1 L464.9,223.1 L464.9,223.1 L466.3,220.3 L466.3,220.3 L466.3,220.3 L465.7,218.6 L465.6,218.5 L465.6,218.4 L465.6,218.3 L465.6,218.1 L465.6,218.0 L465.6,217.9 L465.6,217.8 L465.7,217.6 L465.7,217.5 L465.8,217.4 L465.9,217.3 L465.9,217.2 L466.0,217.1 L466.1,217.1 L466.2,217.0 L466.4,216.9 L466.5,216.9 L466.6,216.9 L466.7,216.9 L467.1,216.8 L467.3,216.8 L467.4,216.8 L467.5,216.8 L467.6,216.9 L467.7,216.9 L467.9,216.9 L468.0,217.0 L468.1,217.1 L468.2,217.2 L468.2,217.2 L468.3,217.3 L468.4,217.4 L469.7,219.7 L469.8,219.8 L469.8,219.9 L469.9,220.0 L469.9,220.2 L469.9,220.3 L469.9,220.4 L469.9,220.6 L469.9,220.7 L469.8,220.8 L469.8,220.9 L468.7,223.1 L468.7,223.1 L468.7,223.1 L469.7,225.2 L469.8,225.3 L469.8,225.4 L469.9,225.6 L469.9,225.7 L469.9,225.8 L469.9,225.9 L469.8,226.1 L469.8,226.2 L469.8,226.3 L469.7,226.4 L469.6,226.5 L468.0,228.7 L468.0,228.7 L468.0,228.7 L471.5,228.0 L471.5,228.0 L479.9,225.2 L479.9,225.2 L479.9,225.2 L482.0,223.1 L482.0,223.1 L482.0,223.1 L481.3,221.0 L481.3,221.0 L481.3,221.0 L478.5,216.8 L478.5,216.8 L475.8,213.4 L475.7,213.2 L473.9,210.2 L473.8,210.1 L473.8,210.0 L473.7,209.9 L473.7,209.8 L473.7,209.7 L473.7,209.5 L473.7,209.4 L473.7,209.3 L474.3,206.3 L474.3,206.3 L474.3,206.3 L471.5,203.5 L471.5,203.5 L471.5,203.5 L467.3,204.2 L467.3,204.2 L467.3,204.2 L464.5,206.3 L464.5,206.3 L464.5,206.3 L465.9,209.8 L467.2,213.0 L467.2,213.1 L467.3,213.2 L467.3,213.4 L467.3,213.5 L467.3,213.6 L467.2,213.8 L467.2,213.9 L467.2,214.0 L467.1,214.1 L467.0,214.2 L466.9,214.3 L466.9,214.4 L466.8,214.5 L466.7,214.6 L466.5,214.7 L466.4,214.7 L466.3,214.7 L466.2,214.8 L463.8,215.1 L463.8,215.1 L463.8,215.2 L463.8,215.2 L463.9,215.3 L463.9,215.5 L463.9,215.6 L463.9,215.7 L463.9,215.8 L463.9,216.0 L463.8,216.1 L463.8,216.2 L463.7,216.3 L463.7,216.4 L463.6,216.5 L463.5,216.6 L463.4,216.7 L463.3,216.8 L463.2,216.8 L463.1,216.9 L463.0,216.9 L462.9,216.9 L462.7,217.0 L462.6,217.0 L462.5,216.9 L462.4,216.9 L461.7,216.8 L461.7,216.8 L461.7,216.8 L458.9,218.2Z" fill="#d9a670" stroke="none"/>
<path d="M464.5,206.3 L467.3,204.2 L471.5,203.5 L474.3,206.3 L473.6,209.8 L475.7,213.3 L478.5,216.8 L481.3,221.0 L482.0,223.1 L479.9,225.2 L475.7,226.6 L471.5,228.0 L468.0,228.7 L470.1,225.9 L468.7,223.1 L470.1,220.3 L468.0,216.8 L467.3,213.3 L465.9,209.8Z" fill="#c0692a"/>
<path d="M463.8,215.1 L466.6,214.7 L467.3,216.8 L464.5,217.1Z" fill="#c0692a"/>
<path d="M458.9,218.2 L461.7,216.8 L465.2,217.5 L466.3,220.3 L464.9,223.1 L461.7,224.1 L458.9,222.4Z" fill="#b7cca5"/>
<path d="M469.4,233.6 L474.3,232.9 L477.8,230.1 L482.0,227.3 L486.2,228.7 L489.7,230.8 L493.2,232.9 L492.5,236.4 L490.4,239.2 L491.8,242.7 L492.5,246.2 L489.7,248.3 L486.2,249.0 L482.7,249.7 L479.2,248.3 L475.7,246.9 L476.1,242.0 L475.0,237.8 L471.5,235.7Z" fill="#c0692a"/>
<path d="M494.9,249.0 L496.3,248.3 L496.7,252.5 L495.3,253.9Z" fill="#c0692a"/>
<path d="M461.0,248.3 L465.9,247.3 L471.5,248.3 L476.4,248.3 L479.9,249.7 L484.1,250.7 L482.0,253.2 L479.9,256.0 L478.5,258.8 L477.1,261.6 L474.3,263.7 L470.8,265.1 L467.3,266.5 L465.2,264.4 L465.2,260.2 L465.9,256.0 L465.2,252.5 L462.4,251.1Z" fill="#c0692a"/>
<path d="M461.0,251.8 L465.2,252.5 L465.9,256.0 L465.2,260.2 L465.2,264.1 L462.4,264.4 L461.0,261.6 L460.7,256.7Z" fill="#cd8a48"/>
<path d="M484.8,225.9 L488.3,226.6 L490.4,228.7 L488.3,230.1 L485.5,228.7Z" fill="#c0692a"/>
<path d="M486.2,224.5 L488.3,221.7 L491.1,220.7 L491.5,223.8 L489.7,226.6 L487.6,226.3Z" fill="#b7cca5"/>
<path d="M491.1,220.3 L493.9,217.5 L498.1,216.1 L500.9,217.5 L503.7,216.8 L505.8,219.6 L505.8,223.8 L505.1,227.3 L503.0,228.7 L503.7,231.5 L501.6,234.3 L498.1,235.0 L494.6,235.0 L493.2,232.9 L491.1,230.1 L490.4,227.3 L491.5,223.8Z" fill="#d9a670"/>
<path d="M507.2,218.2 L512.8,216.1 L518.4,216.5 L523.3,217.9 L524.7,222.4 L524.0,225.9 L522.6,228.0 L518.4,228.7 L514.2,228.0 L510.7,227.3 L507.9,225.2 L506.9,221.7Z" fill="#d9a670"/>
<path d="M503.3,228.7 L506.5,227.3 L510.7,227.7 L513.5,229.7 L510.7,231.9 L507.2,232.2 L504.4,231.1Z" fill="#b7cca5"/>
<path d="M501.6,234.7 L505.8,233.6 L509.3,233.3 L510.0,235.7 L507.2,237.5 L503.7,237.8 L501.6,236.7Z" fill="#cd8a48"/>
<path d="M492.5,237.1 L496.0,236.1 L498.8,237.5 L497.4,239.5 L493.9,239.9Z" fill="#b7cca5"/>
<path d="M512.8,231.9 L517.0,231.1 L521.2,231.9 L519.8,233.9 L515.6,234.3 L512.8,233.6Z" fill="#d9a670"/>
<path d="M511.4,235.0 L515.6,234.3 L520.5,234.3 L521.2,236.7 L518.4,239.2 L513.5,239.9 L510.7,237.8Z" fill="#d9a670"/>
<path d="M505.8,238.1 L510.0,237.8 L512.8,240.6 L510.7,242.0 L508.6,241.3 L507.9,243.4 L505.8,242.0Z" fill="#d9a670"/>
<path d="M520.5,236.7 L524.0,235.0 L529.6,235.3 L532.4,237.8 L533.8,241.3 L531.7,244.1 L527.5,245.9 L523.3,245.1 L520.5,242.7 L519.1,239.9Z" fill="#d9a670"/>
<path d="M531.0,235.0 L533.5,235.7 L535.2,239.9 L533.5,240.6 L532.4,237.8Z" fill="#b7cca5"/>
<path d="M522.6,228.0 L525.4,225.2 L531.0,225.2 L538.0,224.1 L542.9,223.5 L545.0,226.6 L550.6,228.7 L554.8,231.5 L554.1,235.0 L550.6,237.8 L547.8,239.9 L544.3,240.6 L546.4,243.4 L543.6,244.5 L541.5,242.0 L538.0,239.9 L535.2,239.9 L533.5,235.7 L531.0,235.0 L526.8,234.3 L523.3,233.6 L521.9,230.8Z" fill="#c0692a"/>
<path d="M522.6,246.2 L527.5,246.2 L532.4,245.5 L533.1,248.3 L531.0,251.1 L526.1,251.8 L522.6,250.4Z" fill="#b7cca5"/>
<path d="M514.9,240.6 L518.4,239.9 L520.5,242.7 L522.6,246.2 L521.9,249.0 L519.1,249.7 L517.0,246.9 L515.6,244.1Z" fill="#b7cca5"/>
<path d="M510.0,242.7 L513.5,242.0 L515.6,244.8 L514.2,247.6 L511.4,246.2Z" fill="#b7cca5"/>
<path d="M492.5,242.0 L496.0,240.6 L500.2,239.2 L503.7,238.9 L504.4,241.3 L502.3,242.7 L503.0,246.2 L506.5,249.7 L510.0,252.5 L513.5,255.3 L512.8,257.4 L510.0,256.0 L509.3,258.8 L508.6,262.3 L506.5,260.9 L507.2,257.4 L505.1,253.9 L502.3,251.1 L499.5,248.3 L496.7,245.5 L493.9,244.8Z" fill="#c0692a"/>
<path d="M502.3,261.6 L507.2,262.3 L506.5,264.7 L503.7,264.1Z" fill="#c0692a"/>
<path d="M494.6,253.9 L496.7,253.2 L497.1,258.1 L495.0,258.8Z" fill="#c0692a"/>
<path d="M517.7,255.3 L521.9,253.9 L526.1,253.5 L525.4,255.3 L522.6,256.0 L524.0,259.5 L524.7,263.0 L522.6,265.1 L520.5,264.4 L519.1,260.9 L517.7,258.1Z" fill="#c0692a"/>
<path d="M524.0,267.9 L528.9,268.6 L528.5,269.7 L524.3,269.3Z" fill="#c0692a"/>
<path d="M516.3,252.5 L518.1,252.1 L518.4,256.0 L516.7,256.7Z" fill="#d9a670"/>
<path d="M518.4,252.5 L521.9,251.8 L522.3,253.9 L519.1,254.9Z" fill="#d9a670"/>
<path d="M529.6,255.3 L533.1,252.5 L538.0,253.9 L543.6,253.2 L550.6,251.8 L557.6,252.5 L563.2,253.9 L566.0,255.3 L565.3,258.8 L566.7,261.6 L563.2,263.7 L559.0,264.4 L554.8,264.1 L550.6,265.8 L547.8,267.2 L544.3,266.5 L540.1,267.2 L536.6,265.8 L532.4,265.1 L530.3,262.3 L531.0,258.8Z" fill="#9aab82"/>
<path d="M529.6,252.5 L532.4,251.5 L533.5,253.9 L530.7,254.9Z" fill="#9aab82"/>
<path d="M542.9,268.9 L545.7,268.3 L545.3,269.7Z" fill="#cd8a48"/>
<path d="M558.3,249.0 L562.5,249.7 L566.7,251.1 L566.0,252.9 L561.8,252.5 L559.0,251.1Z" fill="#b7cca5"/>
<path d="M563.9,253.9 L566.0,253.5 L567.4,256.0 L565.3,256.3Z" fill="#d9a670"/>
<path d="M566.7,252.5 L570.2,253.2 L573.0,255.3 L570.9,257.4 L568.1,256.7 L566.7,254.6Z" fill="#9aab82"/>
<path d="M499.6,132.4 L503.8,130.7 L509.4,131.0 L513.6,128.9 L519.2,128.2 L526.2,128.9 L530.4,130.3 L527.6,132.1 L522.0,132.4 L518.5,134.5 L522.0,137.3 L524.8,138.7 L521.3,139.7 L517.1,138.0 L514.3,137.3 L512.9,140.1 L510.1,142.5 L507.3,140.1 L505.2,137.3 L501.0,135.2Z" fill="#d5d6db"/>
<path d="M823.0,162.4 L823.0,162.4 L826.0,164.0 L826.0,164.0 L826.0,164.0 L831.0,163.0 L831.0,163.0 L831.0,163.0 L828.0,161.6 L828.0,161.6 L828.0,161.6 L823.0,162.4ZM761.0,147.6 L761.0,147.6 L762.0,149.2 L762.0,149.2 L762.0,149.2 L769.0,149.6 L769.0,149.6 L769.0,149.6 L768.0,148.0 L768.0,148.0 L768.0,148.0 L761.0,147.6ZM728.4,274.0 L728.4,274.0 L728.4,278.0 L728.4,278.0 L728.4,278.0 L730.0,279.6 L730.0,279.6 L730.0,279.6 L732.0,277.0 L732.0,277.0 L732.0,277.0 L731.8,275.1 L731.8,275.0 L731.8,274.9 L731.8,274.8 L731.8,274.6 L731.9,274.5 L731.9,274.4 L732.0,274.3 L732.1,274.2 L732.1,274.1 L732.2,274.0 L732.3,273.9 L732.4,273.9 L732.6,273.8 L732.7,273.8 L732.8,273.7 L732.9,273.7 L733.1,273.7 L733.2,273.7 L733.3,273.7 L733.4,273.7 L733.6,273.8 L733.7,273.8 L733.8,273.9 L733.9,274.0 L734.0,274.1 L734.1,274.2 L734.2,274.3 L734.2,274.4 L734.3,274.5 L734.3,274.6 L734.3,274.7 L734.4,275.0 L734.4,275.0 L734.4,275.0 L738.4,274.0 L738.4,274.0 L738.4,274.0 L738.8,272.5 L738.9,272.4 L738.9,272.3 L739.0,272.2 L739.1,272.1 L739.2,272.0 L739.3,271.9 L739.4,271.8 L739.5,271.7 L739.6,271.7 L739.8,271.6 L739.9,271.6 L740.0,271.6 L740.0,271.6 L740.0,271.6 L745.0,270.0 L745.0,270.0 L745.0,270.0 L749.0,268.0 L749.0,268.0 L749.0,268.0 L751.6,264.0 L751.6,264.0 L751.6,264.0 L752.4,259.0 L752.4,259.0 L752.4,259.0 L751.6,254.0 L751.6,254.0 L751.6,254.0 L750.8,253.9 L750.7,253.9 L750.5,253.8 L750.4,253.8 L750.3,253.7 L750.2,253.6 L750.1,253.5 L750.0,253.5 L749.9,253.4 L749.9,253.2 L749.8,253.1 L749.8,253.0 L749.7,252.9 L749.7,252.8 L749.7,252.6 L749.7,252.5 L749.7,252.4 L749.7,252.2 L749.8,252.1 L749.8,252.0 L749.9,251.9 L750.0,251.8 L750.1,251.7 L750.1,251.6 L750.2,251.5 L750.9,251.1 L751.0,251.0 L751.1,251.0 L753.8,249.7 L753.9,249.6 L754.1,249.6 L754.2,249.6 L758.0,249.0 L758.0,249.0 L758.0,249.0 L759.0,247.0 L759.0,247.0 L759.0,247.0 L756.2,245.1 L756.1,245.1 L756.0,245.0 L755.9,244.9 L755.9,244.8 L754.0,242.0 L754.0,242.0 L754.0,242.0 L751.0,243.0 L751.0,243.0 L751.0,243.0 L750.1,247.3 L750.0,247.4 L750.0,247.5 L749.9,247.6 L749.9,247.7 L749.8,247.8 L748.0,250.0 L748.0,250.0 L748.0,250.0 L749.0,252.4 L749.0,252.4 L749.1,252.6 L749.1,252.7 L749.1,252.8 L749.1,253.0 L749.1,253.1 L749.1,253.2 L749.1,253.3 L749.1,253.5 L749.0,253.6 L749.0,253.6 L749.0,253.6 L748.0,257.9 L748.0,258.0 L748.0,258.1 L746.1,262.8 L746.0,262.9 L746.0,263.0 L745.9,263.1 L745.8,263.2 L742.2,266.8 L742.1,266.9 L742.0,267.0 L741.9,267.0 L741.8,267.1 L737.0,269.0 L737.0,269.0 L732.4,271.0 L732.4,271.0 L732.4,271.0 L732.2,272.6 L732.1,272.7 L732.1,272.8 L732.0,272.9 L732.0,273.1 L731.9,273.2 L731.8,273.3 L731.7,273.4 L731.6,273.4 L731.5,273.5 L731.4,273.6 L731.3,273.6 L731.2,273.6 L731.0,273.7 L728.4,274.0ZM743.0,146.0 L743.0,146.0 L744.0,148.4 L744.0,148.4 L744.0,148.4 L748.0,150.0 L748.0,150.0 L748.0,150.0 L754.0,149.0 L754.0,149.0 L754.0,149.0 L758.0,147.0 L758.0,147.0 L758.0,147.0 L754.0,145.6 L754.0,145.6 L748.0,144.4 L748.0,144.4 L748.0,144.4 L743.0,146.0ZM752.0,239.0 L752.0,239.0 L753.6,238.0 L753.6,238.0 L753.6,238.0 L755.5,233.4 L755.5,233.2 L755.6,233.1 L755.6,233.0 L755.7,232.9 L755.8,232.9 L755.9,232.8 L757.0,232.0 L757.0,232.0 L757.0,232.0 L755.0,226.1 L755.0,226.0 L755.0,225.9 L754.0,219.0 L754.0,219.0 L754.0,219.0 L752.4,218.0 L752.4,218.0 L752.4,218.0 L751.6,224.0 L751.6,224.0 L751.6,224.0 L752.4,231.9 L752.4,232.0 L752.4,232.1 L752.0,239.0ZM749.0,153.0 L749.0,153.0 L749.6,155.0 L749.6,155.0 L749.6,155.0 L754.4,155.6 L754.4,155.6 L754.4,155.6 L754.0,153.6 L754.0,153.6 L754.0,153.6 L749.0,153.0ZM580.0,250.0 L580.0,250.0 L581.0,256.0 L581.0,256.0 L581.0,256.0 L583.0,260.0 L583.0,260.0 L583.0,260.0 L587.9,261.0 L588.1,261.0 L593.9,263.0 L594.0,263.0 L594.1,263.1 L599.0,266.0 L599.0,266.0 L599.0,266.0 L607.0,262.0 L607.0,262.0 L607.0,262.0 L606.9,261.8 L606.8,261.7 L606.7,261.6 L606.7,261.4 L606.7,261.3 L606.7,261.2 L606.6,261.1 L606.7,260.9 L606.7,260.8 L606.7,260.7 L606.8,260.6 L606.8,260.4 L606.9,260.3 L607.0,260.2 L607.1,260.1 L607.2,260.0 L607.3,260.0 L607.4,259.9 L607.5,259.9 L607.6,259.8 L607.7,259.8 L607.9,259.8 L608.0,259.8 L608.1,259.8 L608.3,259.8 L609.0,260.0 L609.1,260.0 L609.2,260.1 L609.3,260.1 L609.4,260.2 L609.5,260.3 L609.6,260.4 L609.7,260.5 L609.8,260.6 L609.8,260.7 L611.0,263.0 L611.0,263.0 L611.0,263.0 L615.0,263.5 L615.0,263.5 L615.0,263.5 L615.5,262.4 L615.6,262.3 L615.7,262.2 L615.7,262.1 L615.8,262.0 L615.9,262.0 L616.0,261.9 L616.2,261.8 L616.3,261.8 L616.4,261.8 L616.5,261.7 L616.6,261.7 L616.8,261.7 L616.9,261.7 L617.0,261.8 L620.0,262.5 L620.0,262.5 L620.0,262.4 L620.0,262.4 L620.1,262.4 L620.2,262.3 L620.2,262.2 L620.3,262.1 L620.5,262.0 L620.6,262.0 L620.7,261.9 L620.8,261.9 L620.9,261.9 L621.0,261.9 L621.2,261.9 L621.3,261.9 L621.4,261.9 L621.5,261.9 L621.7,262.0 L621.8,262.0 L621.9,262.1 L622.0,262.2 L622.1,262.3 L622.2,262.4 L622.2,262.5 L622.3,262.6 L623.0,264.0 L623.1,264.2 L623.1,264.3 L623.1,264.4 L623.2,264.5 L623.2,264.7 L623.1,264.8 L623.1,264.9 L623.1,265.0 L623.0,265.2 L623.0,265.3 L622.9,265.4 L622.8,265.5 L622.7,265.6 L622.6,265.7 L622.5,265.7 L622.4,265.8 L622.3,265.8 L622.2,265.9 L622.1,265.9 L621.9,265.9 L621.8,265.9 L621.7,265.9 L621.6,265.9 L621.4,265.9 L621.3,265.8 L621.2,265.7 L621.1,265.7 L621.0,265.6 L621.0,265.6 L621.0,265.6 L617.0,267.0 L617.0,267.0 L617.0,267.0 L617.0,271.0 L617.0,271.0 L617.0,271.0 L619.2,274.4 L619.2,274.4 L619.2,274.4 L619.5,274.3 L619.6,274.2 L619.7,274.2 L619.9,274.2 L620.0,274.2 L620.1,274.2 L620.3,274.2 L620.4,274.3 L620.5,274.3 L620.6,274.4 L620.7,274.5 L620.8,274.5 L620.9,274.6 L621.0,274.7 L621.1,274.8 L621.1,274.9 L621.2,275.1 L621.2,275.2 L621.2,275.3 L621.3,275.4 L621.3,275.6 L621.2,275.7 L621.2,275.8 L621.2,275.9 L620.8,277.0 L620.8,277.1 L620.7,277.2 L620.6,277.3 L620.6,277.4 L620.5,277.5 L620.0,278.0 L620.0,278.0 L620.0,278.0 L617.0,284.0 L617.0,284.0 L613.0,294.0 L613.0,294.0 L613.0,294.0 L614.7,297.3 L614.7,297.4 L614.8,297.6 L614.8,297.7 L614.8,297.8 L614.8,297.9 L614.8,298.0 L614.8,298.2 L614.7,298.3 L614.7,298.4 L614.6,298.5 L614.6,298.6 L613.0,301.0 L613.0,301.0 L613.0,301.0 L616.0,304.0 L616.0,304.0 L616.0,304.0 L618.3,304.8 L618.4,304.8 L618.5,304.9 L618.6,304.9 L618.7,305.0 L618.8,305.1 L618.9,305.2 L618.9,305.3 L619.0,305.4 L619.1,305.5 L619.1,305.6 L619.1,305.8 L620.0,311.0 L620.0,311.0 L624.0,325.0 L624.0,325.0 L626.0,331.0 L626.0,331.0 L628.0,335.0 L628.0,335.0 L628.0,335.0 L630.0,334.0 L630.0,334.0 L630.0,334.0 L630.1,333.9 L630.3,333.8 L630.4,333.7 L630.5,333.7 L630.6,333.7 L630.7,333.6 L630.9,333.6 L631.0,333.6 L631.1,333.7 L631.3,333.7 L631.4,333.7 L631.5,333.8 L631.6,333.8 L631.7,333.9 L631.8,334.0 L631.9,334.1 L632.0,334.2 L632.0,334.3 L632.1,334.4 L632.1,334.6 L632.2,334.7 L632.2,334.8 L632.2,334.9 L632.2,335.1 L632.0,337.0 L632.0,337.0 L632.0,337.0 L633.6,339.6 L633.6,339.6 L633.6,339.6 L636.0,337.0 L636.0,337.0 L636.0,337.0 L635.0,332.0 L635.0,332.0 L635.0,332.0 L632.9,332.8 L632.8,332.8 L632.7,332.9 L632.5,332.9 L632.4,332.9 L632.3,332.9 L632.2,332.9 L632.0,332.8 L631.9,332.8 L631.8,332.7 L631.7,332.7 L631.6,332.6 L631.5,332.5 L631.4,332.4 L631.4,332.3 L631.3,332.2 L631.2,332.1 L631.2,331.9 L631.2,331.8 L631.2,331.7 L631.1,331.6 L631.2,331.4 L631.2,331.3 L631.2,331.2 L631.3,331.1 L636.0,320.1 L636.0,320.0 L636.1,319.9 L639.9,314.1 L640.0,314.0 L640.1,313.9 L645.0,309.0 L645.0,309.0 L645.0,309.0 L648.0,304.0 L648.0,304.0 L648.0,304.0 L648.9,299.6 L648.9,299.5 L649.0,299.4 L649.0,299.3 L649.1,299.1 L649.2,299.0 L649.2,298.9 L649.3,298.9 L649.5,298.8 L649.6,298.7 L649.8,298.6 L649.9,298.5 L650.1,298.5 L650.2,298.5 L650.3,298.5 L650.4,298.4 L650.6,298.5 L650.7,298.5 L650.8,298.5 L650.9,298.6 L651.0,298.6 L651.1,298.7 L651.2,298.7 L651.3,298.8 L653.1,300.6 L653.2,300.7 L655.6,302.5 L655.7,302.5 L655.8,302.6 L655.8,302.7 L655.9,302.8 L656.0,302.9 L656.0,303.0 L656.0,303.0 L656.0,303.0 L658.0,300.0 L658.0,300.0 L659.9,296.2 L660.0,296.1 L660.1,296.0 L660.1,295.9 L663.0,293.0 L663.0,293.0 L663.0,293.0 L665.0,290.0 L665.0,290.0 L665.0,290.0 L665.0,289.9 L665.1,289.8 L665.1,289.7 L665.2,289.6 L665.3,289.5 L665.4,289.4 L665.5,289.3 L665.6,289.2 L665.7,289.2 L665.8,289.1 L665.9,289.1 L666.0,289.0 L666.1,289.0 L666.3,289.0 L666.4,289.0 L666.5,289.0 L666.6,289.1 L666.8,289.1 L666.9,289.2 L667.0,289.2 L668.1,290.0 L668.1,290.0 L668.2,290.1 L668.3,290.1 L668.4,290.2 L668.5,290.3 L668.6,290.4 L668.6,290.5 L668.7,290.6 L668.7,290.8 L668.7,290.9 L668.7,291.0 L668.8,291.1 L668.7,291.2 L668.7,291.4 L668.0,295.0 L668.0,295.0 L668.0,295.0 L671.0,299.0 L671.0,299.0 L672.0,300.0 L672.0,300.0 L672.0,300.0 L676.0,302.0 L676.0,302.0 L676.0,302.0 L679.9,303.0 L680.0,303.0 L680.1,303.1 L688.0,307.0 L688.0,307.0 L688.0,307.0 L698.0,303.0 L698.0,303.0 L698.0,303.0 L703.0,300.0 L703.0,300.0 L703.0,300.0 L707.0,296.0 L707.0,296.0 L707.0,296.0 L710.0,291.0 L710.0,291.0 L712.4,286.0 L712.4,286.0 L712.4,286.0 L713.0,280.0 L713.0,280.0 L713.0,280.0 L711.0,275.0 L711.0,275.0 L711.0,275.0 L708.4,270.7 L708.4,270.6 L708.3,270.5 L708.3,270.3 L708.2,270.2 L708.2,270.1 L708.2,269.9 L708.3,269.8 L708.3,269.7 L708.3,269.6 L708.4,269.4 L708.5,269.3 L709.9,267.1 L710.0,267.0 L710.1,266.9 L713.0,264.0 L713.0,264.0 L713.0,264.0 L709.3,263.1 L709.2,263.1 L709.1,263.0 L709.0,263.0 L708.9,262.9 L708.8,262.8 L708.7,262.7 L707.3,261.3 L707.2,261.2 L707.1,261.1 L707.0,261.0 L707.0,260.8 L706.9,260.7 L706.9,260.6 L706.9,260.5 L706.9,260.3 L706.9,260.2 L706.9,260.1 L707.0,260.0 L707.0,259.8 L707.1,259.7 L707.1,259.6 L707.2,259.5 L707.3,259.4 L707.4,259.3 L707.5,259.3 L707.6,259.2 L710.0,258.0 L710.0,258.0 L712.4,256.4 L712.5,256.4 L712.6,256.3 L712.7,256.3 L712.8,256.2 L713.0,256.2 L713.1,256.2 L713.2,256.2 L713.3,256.2 L713.4,256.2 L713.6,256.3 L713.7,256.3 L717.0,258.0 L717.0,258.0 L717.0,258.0 L717.3,257.8 L717.4,257.8 L717.5,257.7 L717.6,257.7 L717.7,257.6 L717.8,257.6 L718.0,257.6 L718.1,257.6 L718.2,257.6 L718.3,257.7 L718.5,257.7 L718.6,257.7 L718.7,257.8 L718.8,257.9 L718.9,258.0 L719.0,258.1 L719.0,258.2 L719.1,258.3 L719.2,258.4 L721.0,262.4 L721.0,262.4 L721.0,262.4 L721.1,262.5 L721.2,262.5 L721.3,262.6 L721.4,262.7 L721.4,262.8 L721.5,262.9 L721.5,263.1 L721.6,263.2 L721.6,263.3 L721.6,263.4 L722.0,269.0 L722.0,269.0 L722.0,269.0 L724.0,271.6 L724.0,271.6 L724.0,271.6 L727.6,269.6 L727.6,269.6 L727.6,269.6 L728.0,265.0 L728.0,265.0 L728.0,265.0 L725.6,262.0 L725.6,262.0 L725.5,261.9 L725.4,261.8 L725.4,261.7 L725.3,261.6 L725.3,261.5 L725.2,261.4 L725.2,261.2 L725.2,261.1 L725.2,261.0 L725.2,260.8 L725.2,260.7 L725.9,258.2 L726.0,258.1 L726.0,258.0 L726.1,257.9 L726.1,257.8 L729.0,254.0 L729.0,254.0 L729.0,254.0 L730.0,250.0 L730.0,250.0 L730.0,250.0 L729.9,249.9 L729.8,249.8 L729.7,249.7 L729.7,249.6 L729.6,249.5 L729.6,249.4 L729.6,249.2 L729.5,249.1 L729.5,249.0 L729.5,248.9 L729.6,248.7 L729.6,248.6 L729.6,248.5 L729.7,248.4 L729.8,248.3 L729.8,248.2 L729.9,248.1 L731.0,247.0 L731.0,247.0 L731.0,247.0 L732.9,243.1 L733.0,243.0 L733.1,242.9 L736.0,239.0 L736.0,239.0 L736.0,239.0 L738.0,235.0 L738.0,235.0 L738.0,235.0 L734.6,235.8 L734.5,235.9 L734.4,235.9 L734.2,235.9 L734.1,235.9 L734.0,235.8 L733.8,235.8 L733.7,235.7 L733.6,235.7 L733.5,235.6 L729.1,232.1 L729.0,232.0 L728.9,231.9 L724.0,226.0 L724.0,226.0 L720.0,221.0 L720.0,221.0 L720.0,221.0 L715.0,220.0 L715.0,220.0 L715.0,220.0 L711.0,222.0 L711.0,222.0 L711.0,222.0 L710.1,226.6 L710.0,226.7 L710.0,226.9 L709.9,227.0 L709.9,227.1 L709.8,227.2 L709.7,227.3 L707.2,229.8 L707.1,229.9 L707.0,230.0 L706.9,230.0 L706.8,230.1 L703.1,231.6 L703.0,231.6 L702.9,231.6 L702.7,231.6 L702.6,231.7 L702.5,231.6 L702.4,231.6 L702.3,231.6 L702.1,231.6 L702.0,231.5 L699.0,230.0 L699.0,230.0 L699.0,230.0 L693.3,231.9 L693.2,231.9 L693.1,232.0 L692.9,232.0 L692.8,232.0 L692.7,232.0 L686.2,231.0 L686.1,231.0 L685.9,231.0 L685.8,230.9 L680.0,228.0 L680.0,228.0 L675.0,225.0 L675.0,225.0 L675.0,225.0 L669.0,224.0 L669.0,224.0 L669.0,224.0 L665.4,227.6 L665.3,227.7 L665.2,227.8 L665.1,227.8 L665.0,227.9 L664.8,227.9 L664.7,228.0 L664.6,228.0 L664.5,228.0 L660.0,228.0 L660.0,228.0 L660.0,228.0 L652.0,230.0 L652.0,230.0 L652.0,230.0 L647.8,232.5 L647.7,232.6 L647.6,232.6 L647.5,232.6 L647.3,232.7 L647.2,232.7 L647.1,232.7 L647.0,232.7 L646.8,232.6 L646.7,232.6 L646.6,232.6 L646.5,232.5 L646.5,232.5 L646.5,232.5 L644.2,234.8 L644.1,234.9 L644.0,235.0 L643.9,235.0 L643.8,235.1 L638.5,237.5 L638.5,237.5 L638.5,237.5 L638.1,241.2 L638.1,241.3 L638.0,241.4 L638.0,241.5 L637.9,241.6 L637.9,241.7 L637.8,241.8 L637.7,241.9 L637.6,242.0 L637.5,242.1 L637.4,242.2 L637.3,242.2 L637.2,242.3 L633.5,243.5 L633.5,243.5 L630.0,244.5 L630.0,244.5 L625.0,246.5 L625.0,246.5 L621.7,248.4 L621.6,248.4 L621.5,248.5 L621.4,248.5 L621.2,248.5 L616.0,249.0 L616.0,249.0 L616.0,249.0 L612.6,251.4 L612.5,251.5 L612.4,251.5 L611.5,252.0 L611.4,252.0 L609.9,252.6 L609.8,252.7 L609.7,252.7 L609.5,252.7 L609.4,252.7 L609.3,252.7 L609.1,252.7 L609.0,252.7 L608.9,252.6 L608.8,252.6 L608.7,252.5 L608.6,252.4 L608.5,252.3 L608.4,252.2 L605.0,248.0 L605.0,248.0 L605.0,248.0 L595.2,246.0 L595.1,246.0 L594.9,246.0 L594.8,245.9 L590.0,243.0 L590.0,243.0 L590.0,243.0 L586.0,243.0 L586.0,243.0 L586.0,243.0 L586.0,247.9 L586.0,248.0 L586.0,248.2 L585.9,248.3 L585.9,248.4 L585.8,248.5 L585.8,248.6 L585.7,248.7 L585.6,248.8 L585.5,248.9 L585.4,249.0 L585.3,249.1 L585.2,249.1 L585.0,249.2 L584.9,249.2 L580.0,250.0ZM683.0,369.0 L683.0,369.0 L683.6,371.0 L683.6,371.0 L683.6,371.0 L689.0,372.0 L689.0,372.0 L698.0,374.0 L698.0,374.0 L705.6,375.0 L705.6,375.0 L705.6,375.0 L706.0,373.0 L706.0,373.0 L706.0,373.0 L698.0,371.0 L698.0,371.0 L689.0,368.4 L689.0,368.4 L689.0,368.4 L683.0,369.0ZM655.0,128.0 L655.0,128.0 L656.0,131.0 L656.0,131.0 L656.0,131.0 L659.9,131.6 L660.0,131.6 L660.1,131.7 L666.0,134.0 L666.0,134.0 L666.0,134.0 L669.5,133.3 L669.6,133.3 L669.8,133.3 L669.9,133.3 L670.0,133.3 L670.1,133.3 L670.3,133.4 L670.4,133.4 L670.5,133.5 L670.6,133.6 L670.7,133.6 L670.8,133.7 L670.8,133.8 L670.9,133.9 L671.0,134.1 L671.0,134.2 L671.0,134.3 L671.1,134.4 L671.1,134.5 L671.1,134.7 L671.1,134.8 L671.0,134.9 L671.0,135.0 L671.0,135.0 L671.0,135.0 L673.0,137.6 L673.0,137.6 L673.0,137.6 L678.0,137.0 L678.0,137.0 L678.0,137.0 L681.0,135.0 L681.0,135.0 L681.0,135.0 L676.0,132.4 L676.0,132.4 L676.0,132.4 L672.9,134.0 L672.8,134.1 L672.7,134.1 L672.5,134.1 L672.4,134.2 L672.3,134.2 L672.1,134.2 L672.0,134.1 L671.9,134.1 L671.8,134.1 L671.7,134.0 L671.5,133.9 L671.4,133.9 L671.4,133.8 L671.3,133.7 L671.2,133.6 L671.1,133.4 L671.1,133.3 L671.0,133.2 L671.0,133.1 L671.0,133.0 L671.0,133.0 L671.0,133.0 L670.0,130.0 L670.0,130.0 L670.0,130.0 L667.7,129.2 L667.6,129.2 L667.4,129.1 L667.3,129.0 L667.2,129.0 L667.1,128.9 L667.1,128.8 L667.0,128.7 L666.9,128.6 L666.9,128.4 L666.8,128.3 L666.0,125.0 L666.0,125.0 L666.0,125.0 L660.0,124.4 L660.0,124.4 L660.0,124.4 L655.0,128.0ZM578.0,160.0 L578.0,160.0 L581.0,163.6 L581.0,163.6 L581.0,163.6 L586.0,166.0 L586.0,166.0 L591.0,168.0 L591.0,168.0 L591.0,168.0 L595.0,168.0 L595.0,168.0 L595.0,168.0 L592.0,166.0 L592.0,166.0 L588.1,163.1 L588.1,163.0 L588.0,162.9 L587.9,162.9 L585.5,159.6 L585.4,159.5 L585.3,159.4 L585.3,159.3 L585.3,159.2 L585.2,159.0 L585.2,158.9 L585.2,158.8 L585.2,158.7 L585.3,158.5 L585.3,158.4 L585.4,158.3 L586.9,155.2 L587.0,155.1 L587.1,155.0 L587.1,154.9 L590.9,151.1 L591.0,151.0 L591.1,151.0 L591.2,150.9 L596.9,147.7 L597.0,147.6 L597.1,147.6 L604.0,145.6 L604.0,145.6 L610.0,144.0 L610.0,144.0 L610.0,144.0 L611.0,142.0 L611.0,142.0 L611.0,142.0 L606.0,142.0 L606.0,142.0 L606.0,142.0 L598.0,143.6 L598.0,143.6 L590.0,146.0 L590.0,146.0 L590.0,146.0 L585.0,150.0 L585.0,150.0 L585.0,150.0 L581.0,155.0 L581.0,155.0 L578.0,160.0ZM596.0,125.0 L596.0,125.0 L598.0,128.0 L598.0,128.0 L598.0,128.0 L604.0,127.0 L604.0,127.0 L604.0,127.0 L603.0,124.4 L603.0,124.4 L603.0,124.4 L596.0,125.0ZM584.0,125.0 L584.0,125.0 L587.0,128.0 L587.0,128.0 L587.0,128.0 L593.0,127.0 L593.0,127.0 L593.0,127.0 L591.0,123.6 L591.0,123.6 L591.0,123.6 L584.0,125.0ZM566.0,127.0 L566.0,127.0 L568.0,129.0 L568.0,129.0 L568.0,129.0 L574.0,129.0 L574.0,129.0 L574.0,129.0 L577.0,127.0 L577.0,127.0 L577.0,127.0 L572.0,126.0 L572.0,126.0 L572.0,126.0 L566.0,127.0Z" fill="#b7cca5" stroke="none"/>
<path d="M578.0,160.0 L581.0,155.0 L585.0,150.0 L590.0,146.0 L598.0,143.6 L606.0,142.0 L611.0,142.0 L610.0,144.0 L604.0,145.6 L597.0,147.6 L591.0,151.0 L587.0,155.0 L585.0,159.0 L588.0,163.0 L592.0,166.0 L595.0,168.0 L591.0,168.0 L586.0,166.0 L581.0,163.6Z" fill="#9aab82" stroke="#9aab82" stroke-width="0.7" stroke-opacity="1"/>
<path d="M566.0,127.0 L572.0,126.0 L577.0,127.0 L574.0,129.0 L568.0,129.0Z" fill="#9aab82" stroke="#9aab82" stroke-width="0.7" stroke-opacity="1"/>
<path d="M584.0,125.0 L591.0,123.6 L593.0,127.0 L587.0,128.0Z" fill="#9aab82" stroke="#9aab82" stroke-width="0.7" stroke-opacity="1"/>
<path d="M596.0,125.0 L603.0,124.4 L604.0,127.0 L598.0,128.0Z" fill="#9aab82" stroke="#9aab82" stroke-width="0.7" stroke-opacity="1"/>
<path d="M655.0,128.0 L660.0,124.4 L666.0,125.0 L667.0,129.0 L670.0,130.0 L671.0,133.0 L666.0,134.0 L660.0,131.6 L656.0,131.0Z" fill="#9aab82" stroke="#9aab82" stroke-width="0.7" stroke-opacity="1"/>
<path d="M671.0,135.0 L676.0,132.4 L681.0,135.0 L678.0,137.0 L673.0,137.6Z" fill="#9aab82" stroke="#9aab82" stroke-width="0.7" stroke-opacity="1"/>
<path d="M743.0,146.0 L748.0,144.4 L754.0,145.6 L758.0,147.0 L754.0,149.0 L748.0,150.0 L744.0,148.4Z" fill="#9aab82" stroke="#9aab82" stroke-width="0.7" stroke-opacity="1"/>
<path d="M761.0,147.6 L768.0,148.0 L769.0,149.6 L762.0,149.2Z" fill="#9aab82" stroke="#9aab82" stroke-width="0.7" stroke-opacity="1"/>
<path d="M749.0,153.0 L754.0,153.6 L754.4,155.6 L749.6,155.0Z" fill="#9aab82" stroke="#9aab82" stroke-width="0.7" stroke-opacity="1"/>
<path d="M823.0,162.4 L828.0,161.6 L831.0,163.0 L826.0,164.0Z" fill="#9aab82" stroke="#9aab82" stroke-width="0.7" stroke-opacity="1"/>
<path d="M752.4,218.0 L754.0,219.0 L755.0,226.0 L757.0,232.0 L755.6,233.0 L753.6,238.0 L752.0,239.0 L752.4,232.0 L751.6,224.0Z" fill="#9aab82" stroke="#9aab82" stroke-width="0.7" stroke-opacity="1"/>
<path d="M751.0,243.0 L754.0,242.0 L756.0,245.0 L759.0,247.0 L758.0,249.0 L754.0,249.6 L751.0,251.0 L749.0,252.4 L748.0,250.0 L750.0,247.6Z" fill="#c0692a" stroke="#c0692a" stroke-width="0.8" stroke-opacity="1"/>
<path d="M749.0,253.6 L751.6,254.0 L752.4,259.0 L751.6,264.0 L749.0,268.0 L745.0,270.0 L740.0,271.6 L735.0,272.4 L732.0,273.6 L732.4,271.0 L737.0,269.0 L742.0,267.0 L746.0,263.0 L748.0,258.0Z" fill="#c0692a" stroke="#c0692a" stroke-width="1.0" stroke-opacity="1"/>
<path d="M728.4,274.0 L731.6,273.6 L732.0,277.0 L730.0,279.6 L728.4,278.0Z" fill="#c0692a" stroke="#c0692a" stroke-width="1.4" stroke-opacity="1"/>
<path d="M734.0,273.0 L739.0,272.0 L738.4,274.0 L734.4,275.0Z" fill="#c0692a" stroke="#c0692a" stroke-width="0.8" stroke-opacity="1"/>
<path d="M719.0,258.0 L722.0,254.0 L727.0,251.0 L730.0,250.0 L729.0,254.0 L726.0,258.0 L725.0,261.6 L721.0,262.4Z" fill="#d5d6db"/>
<path d="M721.6,263.0 L725.6,262.0 L728.0,265.0 L727.6,269.6 L724.0,271.6 L722.0,269.0Z" fill="#d9a670"/>
<path d="M622.0,258.0 L627.0,255.0 L632.0,252.4 L637.0,250.0 L637.0,243.0 L640.0,239.0 L644.0,237.0 L647.0,233.0 L650.0,236.0 L653.0,240.0 L656.0,243.0 L662.0,247.0 L668.0,249.0 L674.0,250.0 L680.0,252.0 L686.0,251.0 L692.0,248.0 L697.0,245.0 L702.0,241.0 L707.0,239.0 L708.0,236.0 L705.0,234.4 L702.0,232.0 L707.0,230.0 L710.0,227.0 L711.0,222.0 L715.0,220.0 L720.0,221.0 L724.0,226.0 L729.0,232.0 L734.0,236.0 L738.0,235.0 L736.0,239.0 L733.0,243.0 L731.0,247.0 L728.0,250.0 L724.0,252.4 L720.0,256.0 L717.0,258.0 L713.0,256.0 L710.0,258.0 L706.0,260.0 L709.0,263.0 L713.0,264.0 L710.0,267.0 L708.0,270.0 L711.0,275.0 L713.0,280.0 L712.4,286.0 L710.0,291.0 L707.0,296.0 L703.0,300.0 L698.0,303.0 L693.0,305.0 L688.0,307.0 L684.0,305.0 L680.0,303.0 L676.0,302.0 L672.0,300.0 L671.0,299.0 L668.0,295.0 L669.0,290.0 L667.0,286.0 L664.0,287.0 L660.0,289.0 L658.0,287.0 L654.0,289.0 L650.0,290.0 L644.0,289.0 L638.0,286.0 L633.0,283.0 L630.0,280.0 L631.0,277.0 L629.0,273.0 L626.0,269.0 L624.0,266.0 L622.0,262.0Z" fill="#cd8a48"/>
<path d="M647.0,233.0 L652.0,230.0 L660.0,228.0 L665.0,228.0 L669.0,224.0 L675.0,225.0 L680.0,228.0 L686.0,231.0 L693.0,232.0 L699.0,230.0 L703.0,232.0 L705.0,234.4 L708.0,236.0 L707.0,239.0 L702.0,241.0 L697.0,245.0 L692.0,248.0 L686.0,251.0 L680.0,252.0 L674.0,250.0 L668.0,249.0 L662.0,247.0 L656.0,243.0 L653.0,240.0 L650.0,236.0Z" fill="#b7cca5"/>
<path d="M586.0,243.0 L590.0,243.0 L595.0,246.0 L600.0,247.0 L605.0,248.0 L609.0,253.0 L614.0,251.0 L618.0,252.4 L615.0,255.0 L611.0,256.0 L609.0,260.0 L605.0,259.0 L602.0,256.0 L597.0,253.0 L592.0,251.0 L588.0,250.0 L586.0,248.0Z" fill="#b7cca5"/>
<path d="M580.0,250.0 L586.0,249.0 L588.0,250.0 L592.0,251.0 L597.0,253.0 L602.0,256.0 L605.0,259.0 L607.0,262.0 L603.0,264.0 L599.0,266.0 L594.0,263.0 L588.0,261.0 L583.0,260.0 L581.0,256.0Z" fill="#9aab82"/>
<path d="M633.0,283.0 L636.0,282.0 L642.0,285.0 L648.0,288.0 L647.0,290.0 L641.0,288.0 L636.0,286.0Z" fill="#b7cca5"/>
<path d="M622.0,276.0 L626.0,275.0 L629.0,279.0 L631.0,283.0 L634.0,286.0 L640.0,289.0 L646.0,292.0 L652.0,293.0 L657.0,291.0 L661.0,289.0 L665.0,290.0 L663.0,293.0 L660.0,296.0 L658.0,300.0 L656.0,303.0 L655.0,300.0 L653.0,297.0 L649.0,299.0 L648.0,304.0 L645.0,309.0 L640.0,314.0 L636.0,320.0 L633.0,327.0 L630.0,334.0 L628.0,335.0 L626.0,331.0 L624.0,325.0 L622.0,318.0 L620.0,311.0 L619.0,305.0 L616.0,304.0 L613.0,301.0 L615.0,298.0 L613.0,294.0 L615.0,289.0 L617.0,284.0 L620.0,278.0Z" fill="#cd8a48"/>
<path d="M632.4,333.0 L635.0,332.0 L636.0,337.0 L633.6,339.6 L632.0,337.0Z" fill="#d5d6db"/>
<path d="M634.0,283.6 L637.0,282.4 L644.0,286.0 L649.6,289.0 L648.0,291.0 L642.0,288.4 L637.0,286.4Z" fill="#b7cca5"/>
<path d="M683.0,369.0 L689.0,368.4 L698.0,371.0 L706.0,373.0 L705.6,375.0 L698.0,374.0 L689.0,372.0 L683.6,371.0Z" fill="#b7cca5" stroke="#b7cca5" stroke-width="0.6" stroke-opacity="1"/>
<path d="M617.0,267.0 L621.0,265.6 L624.4,269.0 L622.4,273.2 L619.2,274.4 L617.0,271.0Z" fill="#d9a670"/>
<path d="M621.6,270.0 L625.2,266.8 L629.0,272.4 L631.2,277.0 L630.2,280.4 L633.2,283.2 L629.0,285.0 L623.6,281.0 L620.6,277.6 L622.0,273.6Z" fill="#cd8a48"/>
<path d="M646.5,232.5 L644.0,235.0 L638.5,237.5 L638.0,242.0 L633.5,243.5 L633.0,250.0 L629.0,254.0 L621.5,257.5 L621.5,260.0 L623.5,263.5 L625.0,267.0 L640.0,267.0 L650.0,245.0Z" fill="#cd8a48" stroke="#cd8a48" stroke-width="0.3" stroke-opacity="1"/>
<path d="M609.5,253.0 L612.5,251.5 L616.0,249.0 L621.5,248.5 L625.0,248.5 L632.0,249.0 L633.0,250.0 L629.0,254.0 L621.5,257.5 L618.0,256.0 L614.0,257.0 L610.0,257.5 L609.5,255.0Z" fill="#b7cca5"/>
<path d="M610.0,257.5 L614.0,257.0 L618.0,256.0 L621.5,257.5 L621.5,260.0 L620.0,262.5 L616.0,261.5 L615.0,263.5 L611.0,263.0 L609.5,260.0Z" fill="#b7cca5"/>
<path d="M633.5,243.5 L630.0,244.5 L625.0,246.5 L621.5,248.5 L625.0,248.5 L632.0,249.0 L633.0,250.0 L633.3,246.5Z" fill="#9aab82" stroke="#9aab82" stroke-width="0.3" stroke-opacity="1"/>
<path d="M653.8,286.2 L661.2,285.6 L666.9,286.5 L668.1,290.0 L664.4,287.5 L661.2,290.0 L657.5,293.1 L657.5,296.2 L656.2,299.4 L654.4,295.6 L653.1,292.5 L649.0,291.9 L650.0,290.2 L655.0,289.8Z" fill="#cd8a48" stroke="#cd8a48" stroke-width="0.4" stroke-opacity="1"/>
<path d="M649.8,287.2 L654.4,287.2 L655.0,289.4 L650.6,290.0Z" fill="#c0692a" stroke="#c0692a" stroke-width="0.3" stroke-opacity="1"/>
<path d="M648.8,291.9 L653.1,292.5 L654.4,295.6 L656.2,299.4 L655.6,302.5 L653.1,300.6 L650.6,298.1 L649.4,295.0Z" fill="#b7cca5"/>
<path d="M547.5,266.9 L552.5,265.6 L558.8,264.4 L559.4,268.8 L555.0,271.2 L550.6,274.4 L547.5,275.0 L546.9,270.6Z" fill="#d5d6db"/>
<path d="M558.8,264.8 L563.1,264.0 L565.6,267.5 L566.9,271.9 L568.8,275.6 L570.6,280.6 L569.4,283.8 L565.6,283.8 L561.2,280.0 L556.9,276.9 L553.8,275.0 L555.6,271.9 L559.4,268.8Z" fill="#d9a670"/>
<path d="M546.9,276.9 L550.6,274.8 L553.5,275.6 L551.9,278.1 L549.4,280.0 L546.9,283.8Z" fill="#cd8a48"/>
<path d="M546.2,275.6 L547.5,275.6 L546.9,283.1 L546.0,280.0Z" fill="#d9a670"/>
<path d="M546.5,272.5 L547.8,272.2 L547.5,275.0 L546.2,275.4Z" fill="#c0692a"/>
<path d="M546.2,285.0 L549.4,280.0 L551.9,278.1 L553.5,275.6 L556.9,277.2 L561.2,280.2 L565.6,284.0 L570.0,285.6 L571.9,288.8 L573.8,291.9 L575.6,293.8 L577.5,297.5 L580.0,299.4 L584.4,301.2 L585.0,303.8 L583.1,307.5 L578.8,309.4 L575.0,310.6 L570.6,312.5 L566.9,313.8 L561.9,315.0 L560.0,310.0 L557.5,305.6 L554.4,300.0 L551.2,293.8 L548.1,288.8Z" fill="#b7cca5"/>
<path d="M576.2,291.9 L577.5,291.9 L577.8,295.0 L576.5,295.2Z" fill="#b7cca5"/>
<path d="M579.0,298.1 L583.1,297.2 L585.6,295.0 L586.5,296.9 L585.0,299.4 L584.4,301.2 L580.0,299.4Z" fill="#b7cca5"/>
<path d="M585.6,295.0 L587.5,293.8 L590.0,297.5 L593.5,300.6 L591.2,305.0 L588.1,308.8 L584.4,312.5 L581.2,314.4 L579.4,310.0 L583.1,307.5 L585.0,303.8 L584.4,301.2 L586.5,297.2Z" fill="#b7cca5"/>
<path d="M564.4,259.4 L566.9,261.2 L570.6,263.1 L575.0,265.6 L580.0,265.0 L584.4,262.5 L588.1,261.9 L592.5,263.1 L595.6,266.2 L596.9,270.0 L595.6,273.8 L596.9,278.8 L596.2,282.5 L598.1,286.2 L599.4,290.0 L598.8,293.1 L595.0,293.8 L591.2,292.5 L588.1,291.2 L586.2,290.0 L584.4,291.9 L581.2,290.6 L578.1,287.5 L575.6,283.8 L573.1,280.6 L571.2,281.9 L570.0,279.4 L569.0,275.6 L567.2,271.9 L566.0,267.5 L563.8,264.0Z" fill="#b7cca5"/>
<path d="M596.9,270.0 L600.0,268.8 L605.0,266.2 L610.0,265.0 L613.8,262.5 L615.6,261.9 L616.2,265.0 L614.4,268.8 L612.5,272.5 L610.0,276.9 L606.2,280.0 L602.5,282.8 L598.8,283.1 L596.5,282.5 L596.9,278.8 L595.6,273.8Z" fill="#d5d6db"/>
<path d="M598.1,286.2 L596.5,282.8 L602.5,283.0 L606.2,280.2 L610.0,277.1 L612.8,272.8 L614.8,268.8 L617.5,267.5 L621.2,268.8 L622.5,271.9 L621.2,274.4 L620.0,276.9 L618.1,280.6 L615.0,285.6 L613.1,288.8 L614.0,292.5 L611.2,293.8 L609.4,291.9 L603.8,291.9 L599.4,293.1 L599.8,290.0Z" fill="#d9a670"/>
<path d="M561.0,315.0 L563.0,313.5 L566.0,314.0 L569.0,316.0 L572.0,313.0 L576.0,311.0 L579.0,310.0 L580.5,314.0 L579.0,317.0 L574.0,319.0 L569.0,321.5 L565.5,323.5 L563.0,324.5 L562.0,321.0Z" fill="#d9a670"/>
<path d="M667.5,311.0 L668.9,318.0 L669.6,323.6 L668.9,326.4 L667.9,323.6 L667.1,318.0Z" fill="#d9a670" stroke="#d9a670" stroke-width="1.0" stroke-opacity="1"/>
<path d="M667.5,308.2 L669.6,306.8 L672.4,306.1 L674.5,309.6 L678.0,311.0 L681.5,313.8 L680.8,318.0 L678.0,320.1 L675.9,321.5 L675.2,324.3 L673.1,323.6 L671.7,321.5 L669.6,324.3 L669.3,329.2 L668.2,332.0 L669.6,334.8 L672.4,337.6 L675.2,339.7 L674.1,340.7 L671.0,338.3 L668.5,335.5 L667.5,332.0 L668.2,327.8 L667.5,318.0Z" fill="#d9a670" stroke="#d9a670" stroke-width="1.0" stroke-opacity="1"/>
<path d="M676.6,301.9 L680.1,299.8 L683.6,301.2 L685.0,304.0 L682.9,306.1 L684.3,309.6 L686.4,313.1 L688.5,317.3 L689.2,322.2 L687.8,326.4 L685.0,329.2 L682.2,332.0 L680.1,332.7 L681.5,329.2 L684.3,326.4 L685.7,322.9 L685.0,318.7 L683.6,315.2 L681.5,311.0 L679.4,307.5 L678.0,304.0Z" fill="#b7cca5" stroke="#b7cca5" stroke-width="1.0" stroke-opacity="1"/>
<path d="M672.4,304.0 L675.2,302.6 L678.0,304.0 L679.4,307.5 L681.5,311.0 L683.6,315.2 L685.0,318.7 L682.9,319.4 L681.5,315.9 L680.1,313.1 L678.0,311.0 L674.5,309.6 L673.1,306.8Z" fill="#c9803f" stroke="#c9803f" stroke-width="1.0" stroke-opacity="1"/>
<path d="M675.9,321.9 L678.7,320.5 L682.9,320.1 L685.0,321.5 L684.3,325.7 L681.5,328.5 L678.0,328.5 L676.3,325.7Z" fill="#b7cca5" stroke="#b7cca5" stroke-width="1.0" stroke-opacity="1"/>
<path d="M672.4,341.1 L674.5,340.1 L676.6,342.5 L678.0,346.0 L679.1,350.2 L677.3,350.9 L675.2,348.1 L673.1,344.6Z" fill="#d9a670" stroke="#d9a670" stroke-width="1.0" stroke-opacity="1"/>
<path d="M662.3,341.8 L665.4,341.5 L668.9,344.6 L673.1,348.8 L677.3,353.7 L680.1,357.9 L682.9,362.1 L683.6,367.0 L680.1,367.0 L676.6,362.8 L672.4,357.2 L668.2,351.6 L664.7,346.0Z" fill="#b7cca5" stroke="#b7cca5" stroke-width="1.0" stroke-opacity="1"/>
<path d="M691.3,350.5 L694.1,348.1 L698.3,344.6 L701.1,341.1 L703.2,338.3 L706.0,339.7 L707.7,342.5 L705.3,343.9 L702.5,344.6 L700.4,346.7 L697.6,349.5 L694.1,351.6Z" fill="#d9a670" stroke="#d9a670" stroke-width="1.0" stroke-opacity="1"/>
<path d="M688.9,351.6 L691.3,350.9 L694.1,351.6 L697.6,349.5 L700.4,346.7 L702.9,344.9 L705.7,345.3 L706.7,348.8 L706.0,353.0 L703.9,357.2 L701.8,361.4 L699.7,363.5 L696.2,362.8 L692.7,361.4 L690.3,357.9 L689.2,354.4Z" fill="#b7cca5" stroke="#b7cca5" stroke-width="1.0" stroke-opacity="1"/>
<path d="M710.5,311.0 L713.7,310.3 L714.4,313.8 L713.7,317.3 L715.1,320.1 L717.2,322.9 L715.8,323.6 L713.7,321.5 L711.6,319.4 L710.2,315.9Z" fill="#d9a670" stroke="#d9a670" stroke-width="1.0" stroke-opacity="1"/>
<path d="M713.7,324.3 L716.5,323.6 L719.3,326.4 L720.0,329.9 L717.9,330.6 L715.8,328.5 L714.4,326.4Z" fill="#d9a670" stroke="#d9a670" stroke-width="1.0" stroke-opacity="1"/>
<path d="M717.2,334.8 L720.0,332.7 L722.1,334.8 L721.7,338.3 L719.3,340.1 L717.5,338.3Z" fill="#d9a670" stroke="#d9a670" stroke-width="1.0" stroke-opacity="1"/>
<path d="M704.6,334.1 L706.0,332.0 L708.1,329.2 L709.5,327.1 L710.2,327.8 L708.5,330.6 L706.7,333.4 L705.3,334.8Z" fill="#d9a670" stroke="#d9a670" stroke-width="1.0" stroke-opacity="1"/>
<path d="M718.6,325.0 L720.0,325.7 L720.7,329.2 L719.3,328.5Z" fill="#d9a670" stroke="#d9a670" stroke-width="1.0" stroke-opacity="1"/>
<path d="M715.1,330.6 L716.5,331.3 L716.9,334.1 L715.5,333.7Z" fill="#d9a670" stroke="#d9a670" stroke-width="1.0" stroke-opacity="1"/>
<path d="M710.5,295.6 L712.3,294.2 L713.0,297.0 L712.3,300.5 L710.9,301.2Z" fill="#9aab82" stroke="#9aab82" stroke-width="1.0" stroke-opacity="1"/>
<path d="M688.1,308.2 L690.6,307.1 L692.0,308.5 L690.3,310.7 L688.5,310.3Z" fill="#cd8a48" stroke="#cd8a48" stroke-width="1.0" stroke-opacity="1"/>
<path d="M657.5,293.1 L661.2,290.0 L664.4,287.5 L666.9,286.9 L668.1,290.0 L667.5,293.8 L669.4,297.5 L671.2,301.2 L672.5,303.8 L670.0,306.2 L668.1,308.8 L666.9,312.5 L665.0,315.0 L662.5,316.2 L660.6,312.5 L660.0,307.5 L658.1,303.8 L656.2,300.0 L657.5,296.2Z" fill="#d9a670" stroke="#d9a670" stroke-width="0.5" stroke-opacity="1"/>
<path d="M668.1,290.0 L666.9,286.9 L672.5,287.5 L678.8,291.2 L685.0,301.9 L682.5,299.4 L678.8,300.0 L675.0,303.1 L672.5,303.8 L671.2,301.2 L669.4,297.5 L667.5,293.8Z" fill="#cd8a48" stroke="#cd8a48" stroke-width="0.4" stroke-opacity="1"/>
<path d="M445.0,320.0 L445.0,320.0 L446.0,323.5 L446.0,323.5 L446.0,323.5 L446.1,323.6 L446.2,323.7 L446.3,323.8 L446.3,323.9 L446.4,324.0 L446.5,324.1 L446.5,324.2 L446.5,324.4 L446.5,324.5 L446.5,324.6 L446.5,324.7 L446.5,324.8 L446.5,324.8 L446.5,326.5 L446.5,326.5 L446.5,326.5 L448.0,328.0 L448.0,328.0 L448.0,328.0 L448.6,327.7 L448.8,327.7 L448.9,327.7 L449.0,327.7 L449.1,327.7 L449.3,327.7 L449.4,327.7 L449.5,327.7 L449.6,327.8 L449.7,327.8 L449.8,327.9 L449.9,327.9 L450.0,328.0 L451.6,329.6 L451.7,329.7 L451.8,329.8 L451.8,329.9 L451.9,330.0 L451.9,330.2 L452.0,330.3 L452.0,330.4 L452.0,330.5 L452.0,334.0 L452.0,334.0 L452.0,334.0 L454.0,337.0 L454.0,337.0 L454.0,337.0 L455.3,336.1 L455.4,336.0 L455.6,336.0 L455.7,335.9 L455.8,335.9 L455.9,335.9 L456.1,335.9 L456.2,335.9 L456.3,335.9 L456.5,336.0 L456.6,336.0 L456.7,336.1 L456.8,336.1 L456.9,336.2 L457.0,336.3 L457.1,336.4 L457.2,336.5 L457.2,336.6 L457.3,336.8 L457.3,336.9 L457.6,338.0 L457.6,338.0 L457.6,338.0 L460.0,340.0 L460.0,340.0 L460.0,340.0 L464.0,342.0 L464.0,342.0 L464.0,342.0 L464.2,341.9 L464.3,341.9 L464.4,341.9 L464.5,341.9 L464.7,341.9 L464.8,341.9 L464.9,342.0 L465.0,342.0 L465.0,342.0 L465.0,342.0 L472.4,341.0 L472.4,341.0 L472.4,341.0 L472.5,340.9 L472.6,340.8 L472.7,340.8 L472.8,340.7 L472.9,340.7 L473.1,340.6 L473.2,340.6 L473.3,340.6 L473.4,340.6 L473.6,340.6 L473.7,340.7 L473.8,340.7 L473.9,340.8 L474.0,340.8 L474.1,340.9 L475.0,341.6 L475.0,341.6 L475.0,341.6 L479.4,340.1 L479.6,340.0 L479.7,340.0 L479.8,340.0 L480.0,340.0 L480.0,340.0 L480.0,340.0 L484.0,339.0 L484.0,339.0 L484.0,339.0 L484.1,338.9 L484.2,338.8 L484.3,338.7 L484.4,338.7 L484.5,338.6 L484.6,338.6 L484.7,338.6 L484.9,338.5 L485.0,338.5 L485.1,338.5 L485.3,338.6 L485.4,338.6 L485.5,338.6 L485.6,338.7 L485.7,338.7 L485.8,338.8 L485.9,338.9 L486.0,339.0 L486.0,339.0 L486.0,339.0 L490.0,342.0 L490.0,342.0 L490.0,342.0 L494.9,342.0 L495.0,342.0 L495.2,342.0 L495.3,342.1 L495.4,342.1 L495.5,342.1 L495.6,342.2 L495.7,342.3 L495.8,342.4 L495.9,342.5 L496.0,342.6 L496.0,342.7 L496.1,342.8 L496.1,342.9 L496.2,343.0 L496.2,343.1 L496.2,343.3 L496.2,343.4 L496.2,343.5 L496.2,343.6 L496.1,343.7 L496.1,343.9 L496.0,344.0 L496.0,344.0 L496.0,344.0 L496.0,344.0 L497.0,348.0 L497.0,348.0 L497.0,348.1 L497.1,348.3 L497.1,348.4 L497.1,348.5 L497.1,348.7 L497.1,348.8 L497.0,348.9 L497.0,349.0 L495.6,352.0 L495.6,352.0 L495.6,352.0 L496.0,356.0 L496.0,356.0 L496.0,356.0 L498.0,360.0 L498.0,360.0 L498.0,360.0 L501.0,363.6 L501.0,363.6 L501.1,363.6 L501.1,363.6 L501.1,363.6 L501.2,363.5 L501.3,363.5 L501.4,363.5 L501.6,363.5 L501.7,363.5 L501.8,363.5 L501.9,363.6 L502.0,363.6 L502.0,363.6 L506.0,364.0 L506.0,364.0 L506.0,364.0 L506.4,363.7 L506.5,363.6 L506.7,363.6 L506.8,363.6 L506.9,363.5 L507.0,363.5 L507.2,363.5 L507.3,363.5 L507.4,363.5 L507.5,363.6 L507.7,363.6 L507.8,363.7 L507.9,363.7 L508.0,363.8 L508.1,363.9 L508.2,364.0 L508.2,364.1 L508.3,364.2 L508.4,364.3 L508.4,364.5 L508.4,364.6 L508.8,366.7 L508.8,366.8 L508.8,367.0 L508.8,367.1 L508.8,367.2 L508.7,367.3 L508.7,367.5 L508.6,367.6 L508.6,367.7 L508.5,367.8 L508.4,367.9 L508.3,368.0 L508.2,368.0 L508.1,368.1 L508.0,368.1 L507.8,368.2 L507.7,368.2 L503.0,369.0 L503.0,369.0 L503.0,369.0 L504.4,375.8 L504.4,375.9 L504.4,376.1 L504.4,376.2 L503.6,381.9 L503.6,382.0 L503.6,382.1 L501.6,388.0 L501.6,388.0 L501.6,388.0 L502.0,394.0 L502.0,394.0 L502.0,394.0 L502.0,394.1 L502.1,394.2 L502.1,394.3 L502.1,394.5 L502.1,394.6 L502.1,394.7 L502.1,394.9 L502.0,395.0 L502.0,395.0 L502.0,395.0 L503.6,401.0 L503.6,401.0 L506.0,408.0 L506.0,408.0 L509.0,416.0 L509.0,416.0 L511.5,420.7 L511.6,420.8 L511.6,420.9 L511.6,421.0 L511.6,421.2 L511.7,421.3 L511.6,421.4 L511.6,421.5 L511.6,421.7 L511.5,421.8 L511.5,421.9 L511.4,422.0 L511.3,422.1 L511.2,422.2 L511.1,422.3 L511.0,422.4 L511.0,422.4 L511.0,422.4 L513.0,427.9 L513.0,428.1 L514.4,434.0 L514.4,434.0 L514.4,434.0 L517.0,437.6 L517.0,437.6 L517.0,437.6 L522.0,436.0 L522.0,436.0 L528.0,434.0 L528.0,434.0 L528.0,434.0 L533.0,430.0 L533.0,430.0 L533.0,430.0 L537.0,425.0 L537.0,425.0 L540.0,420.0 L540.0,420.0 L540.0,420.0 L540.3,418.8 L540.4,418.7 L540.4,418.6 L540.5,418.4 L540.6,418.3 L540.7,418.2 L540.8,418.1 L540.9,418.1 L541.0,418.0 L541.0,418.0 L541.0,418.0 L540.9,417.4 L540.9,417.3 L540.9,417.2 L540.9,417.1 L540.9,416.9 L540.9,416.8 L541.6,414.4 L541.6,414.4 L541.6,414.4 L541.6,414.3 L541.6,414.1 L541.6,414.0 L541.7,413.9 L541.7,413.8 L541.8,413.6 L541.9,413.5 L541.9,413.4 L542.0,413.3 L542.1,413.3 L542.2,413.2 L542.3,413.1 L542.5,413.1 L544.4,412.4 L544.4,412.4 L544.4,412.4 L546.0,408.0 L546.0,408.0 L546.0,408.0 L545.1,402.7 L545.1,402.5 L545.1,402.4 L545.1,402.3 L545.1,402.2 L545.2,402.0 L545.2,401.9 L545.3,401.8 L545.3,401.7 L545.4,401.6 L545.5,401.5 L556.0,391.0 L556.0,391.0 L556.0,391.0 L557.0,385.0 L557.0,385.0 L557.0,385.0 L556.4,379.0 L556.4,379.0 L556.3,379.0 L556.2,378.9 L556.1,378.8 L556.0,378.7 L556.0,378.6 L555.9,378.5 L555.8,378.4 L555.8,378.3 L555.7,378.2 L555.7,378.0 L555.7,377.9 L555.7,377.8 L555.7,377.6 L555.7,377.5 L555.8,377.4 L555.8,377.3 L555.9,377.2 L556.0,377.0 L556.0,377.0 L556.0,377.0 L554.0,370.1 L554.0,369.9 L553.2,365.4 L553.2,365.3 L553.2,365.2 L553.2,365.0 L553.3,364.9 L553.3,364.8 L553.3,364.7 L553.4,364.5 L553.5,364.4 L553.6,364.3 L553.6,364.2 L553.7,364.2 L553.9,364.1 L554.0,364.0 L554.1,364.0 L554.2,363.9 L554.3,363.9 L554.5,363.9 L554.6,363.9 L554.7,363.9 L554.9,363.9 L555.0,364.0 L555.0,364.0 L555.0,364.0 L559.0,359.0 L559.0,359.0 L559.0,359.0 L558.7,357.6 L558.7,357.4 L558.7,357.3 L558.7,357.2 L558.7,357.0 L558.7,356.9 L558.8,356.8 L558.8,356.7 L558.9,356.6 L559.0,356.5 L559.1,356.4 L559.2,356.3 L559.3,356.2 L559.4,356.2 L559.5,356.1 L559.6,356.1 L559.7,356.0 L559.9,356.0 L559.9,356.0 L559.9,356.0 L560.0,356.0 L560.0,356.0 L563.0,353.0 L563.0,353.0 L563.0,353.0 L571.0,341.0 L571.0,341.0 L574.5,335.0 L574.5,335.0 L574.5,335.0 L576.5,330.0 L576.5,330.0 L576.5,330.0 L577.0,326.5 L577.0,326.5 L577.0,326.5 L573.0,328.0 L573.0,328.0 L567.4,329.9 L567.3,329.9 L567.1,329.9 L567.0,329.9 L566.9,329.9 L566.7,329.9 L566.6,329.9 L561.5,328.5 L561.5,328.5 L561.5,328.5 L561.4,328.5 L561.3,328.5 L561.1,328.4 L561.0,328.4 L560.9,328.3 L560.8,328.3 L560.7,328.2 L560.6,328.1 L560.5,328.0 L560.5,327.9 L560.4,327.8 L560.3,327.5 L560.2,327.4 L560.2,327.3 L560.2,327.2 L560.1,327.0 L560.1,326.9 L560.1,326.8 L560.2,326.7 L560.2,326.5 L560.3,326.4 L560.3,326.3 L560.4,326.2 L560.5,326.1 L560.6,326.0 L560.7,325.9 L560.8,325.8 L560.9,325.8 L561.5,325.5 L561.5,325.5 L561.5,325.5 L556.1,320.1 L555.9,319.9 L553.0,316.0 L553.0,316.0 L551.4,314.4 L551.3,314.3 L551.3,314.2 L551.2,314.1 L551.2,314.0 L551.1,313.9 L551.1,313.8 L551.1,313.6 L551.1,313.5 L551.1,313.4 L551.1,313.3 L551.1,313.1 L551.1,313.0 L551.2,312.9 L551.3,312.8 L551.3,312.7 L551.5,312.5 L551.5,312.5 L551.5,312.5 L552.0,310.5 L552.0,310.5 L552.0,310.5 L550.1,307.1 L550.0,307.0 L550.0,306.8 L549.0,303.5 L549.0,303.5 L549.0,303.5 L548.9,303.4 L548.9,303.3 L548.8,303.2 L548.8,303.1 L548.8,302.9 L548.8,302.8 L548.8,302.7 L548.8,302.6 L548.8,302.5 L548.8,302.3 L548.9,302.2 L548.9,302.1 L549.0,302.0 L549.0,302.0 L549.0,302.0 L548.0,298.0 L548.0,298.0 L548.0,298.0 L545.0,292.1 L545.0,291.9 L543.2,286.6 L543.2,286.5 L543.1,286.3 L543.1,286.2 L543.1,286.1 L543.2,286.0 L543.2,285.8 L543.2,285.7 L543.3,285.6 L543.4,285.5 L545.0,283.0 L545.0,283.0 L545.0,283.0 L543.0,279.0 L543.0,279.0 L543.0,279.0 L539.2,279.9 L539.1,280.0 L539.0,280.0 L538.9,280.0 L538.7,280.0 L532.0,279.0 L532.0,279.0 L532.0,279.0 L527.5,279.9 L527.4,279.9 L527.2,279.9 L527.1,279.9 L527.0,279.9 L526.9,279.9 L526.7,279.8 L526.6,279.8 L526.5,279.7 L526.4,279.6 L526.3,279.5 L526.2,279.4 L526.2,279.3 L526.1,279.2 L526.0,279.1 L526.0,279.0 L526.0,279.0 L526.0,279.0 L523.0,276.0 L523.0,276.0 L523.0,276.0 L518.0,277.0 L518.0,277.0 L518.0,277.0 L514.6,279.5 L514.5,279.6 L514.4,279.7 L514.3,279.7 L514.2,279.7 L514.0,279.8 L513.9,279.8 L513.8,279.8 L513.7,279.8 L513.5,279.7 L513.4,279.7 L513.3,279.6 L508.0,277.0 L508.0,277.0 L508.0,277.0 L501.0,276.0 L501.0,276.0 L500.8,276.0 L500.7,276.0 L500.6,275.9 L500.5,275.9 L500.4,275.8 L500.3,275.7 L500.2,275.6 L500.1,275.5 L500.0,275.5 L500.0,275.3 L499.9,275.2 L499.9,275.1 L499.8,275.0 L499.8,274.9 L499.8,274.7 L499.8,274.6 L499.8,274.5 L499.8,274.4 L499.9,274.3 L499.9,274.1 L500.0,274.0 L500.0,274.0 L500.0,274.0 L499.5,271.0 L499.5,271.0 L499.5,271.0 L498.6,268.3 L498.6,268.2 L498.5,268.1 L498.5,267.9 L498.5,267.8 L498.6,267.7 L499.0,265.0 L499.0,265.0 L499.0,265.0 L496.5,264.0 L496.5,264.0 L496.5,264.0 L494.6,265.2 L494.4,265.2 L494.3,265.3 L494.2,265.3 L494.1,265.3 L493.9,265.4 L493.8,265.4 L493.7,265.3 L493.6,265.3 L493.4,265.3 L493.3,265.2 L493.2,265.2 L493.1,265.1 L493.0,265.0 L493.0,265.0 L493.0,265.0 L484.0,266.0 L484.0,266.0 L484.0,266.0 L477.0,268.0 L477.0,268.0 L476.9,268.0 L476.8,268.1 L476.7,268.1 L476.5,268.1 L476.4,268.1 L476.3,268.1 L476.2,268.1 L476.0,268.0 L476.0,268.0 L476.0,268.0 L470.0,269.0 L470.0,269.0 L470.0,269.0 L465.0,272.0 L465.0,272.0 L465.0,272.0 L461.0,278.0 L461.0,278.0 L456.2,287.7 L456.1,287.8 L456.0,287.9 L455.9,288.0 L455.8,288.1 L455.7,288.2 L453.0,290.0 L453.0,290.0 L453.0,290.0 L450.0,294.0 L450.0,294.0 L450.0,294.0 L448.0,299.0 L448.0,299.0 L448.0,299.0 L448.0,303.0 L448.0,303.0 L448.0,303.0 L448.0,303.1 L448.0,303.2 L448.0,303.3 L448.0,303.5 L448.0,303.6 L448.0,303.7 L446.4,308.0 L446.4,308.0 L446.4,308.0 L448.0,314.0 L448.0,314.0 L448.0,314.0 L448.1,314.1 L448.2,314.2 L448.3,314.3 L448.4,314.4 L448.5,314.5 L448.5,314.6 L448.6,314.7 L448.6,314.9 L448.6,315.0 L448.6,315.1 L448.6,315.2 L448.6,315.4 L448.6,315.5 L448.5,315.6 L448.5,315.7 L448.4,315.8 L448.3,315.9 L448.2,316.0 L448.1,316.1 L448.0,316.2 L447.9,316.3 L447.8,316.3 L447.7,316.4 L447.6,316.4 L447.0,316.5 L447.0,316.5 L447.0,316.5 L445.0,320.0ZM562.4,411.0 L562.4,411.0 L565.0,414.4 L565.0,414.4 L565.0,414.4 L568.0,413.0 L568.0,413.0 L568.0,413.0 L570.0,408.0 L570.0,408.0 L572.4,400.0 L572.4,400.0 L574.4,393.0 L574.4,393.0 L574.4,393.0 L575.0,387.0 L575.0,387.0 L575.0,387.0 L573.6,383.0 L573.6,383.0 L573.6,383.0 L571.0,385.0 L571.0,385.0 L571.0,385.0 L568.1,388.9 L568.0,389.0 L567.9,389.1 L564.4,392.4 L564.4,392.4 L564.4,392.4 L564.0,396.9 L564.0,397.1 L562.4,404.0 L562.4,404.0 L562.4,404.0 L562.4,411.0Z" fill="#b7cca5" stroke="none"/>
<path d="M461.0,278.0 L465.0,272.0 L470.0,269.0 L476.0,268.0 L477.0,273.0 L474.0,277.0 L471.0,280.0 L467.0,283.0 L463.0,285.0 L459.0,288.0 L456.0,288.0 L458.0,284.0Z" fill="#d9a670"/>
<path d="M448.0,299.0 L450.0,294.0 L453.0,290.0 L456.0,288.0 L463.0,288.0 L463.0,292.0 L457.0,293.0 L456.0,297.0 L453.0,299.0 L452.0,303.0 L448.0,303.0Z" fill="#d5d6db"/>
<path d="M463.0,285.0 L467.0,283.0 L471.0,280.0 L474.0,277.0 L477.0,273.0 L477.0,268.0 L484.0,266.0 L493.0,265.0 L495.0,272.0 L497.0,278.0 L498.0,284.0 L499.0,292.0 L500.0,297.0 L493.0,303.0 L486.0,308.0 L480.0,304.0 L474.0,299.0 L468.0,294.0 L463.0,290.0Z" fill="#d9a670"/>
<path d="M494.0,265.5 L496.5,264.0 L499.0,265.0 L498.5,268.0 L499.5,271.0 L500.0,274.0 L498.0,276.0 L497.0,278.5 L495.5,275.0 L494.5,272.0 L493.5,269.5Z" fill="#cd8a48"/>
<path d="M498.0,279.0 L501.0,276.0 L508.0,277.0 L514.0,280.0 L518.0,277.0 L523.0,276.0 L526.0,279.0 L525.6,287.0 L526.0,298.0 L525.6,307.0 L520.0,305.0 L514.0,302.0 L508.0,300.0 L503.0,299.0 L500.0,297.0 L499.0,292.0 L498.0,284.0Z" fill="#d5d6db"/>
<path d="M527.0,280.0 L532.0,279.0 L539.0,280.0 L543.0,279.0 L545.0,283.0 L543.0,286.0 L545.0,292.0 L548.0,298.0 L549.0,302.0 L527.0,302.0 L527.0,288.0Z" fill="#cd8a48"/>
<path d="M448.0,303.6 L452.0,303.6 L453.0,299.0 L456.0,297.0 L457.0,293.0 L463.0,292.0 L463.0,290.0 L468.0,294.0 L467.0,306.0 L468.0,317.0 L458.0,318.0 L453.0,317.0 L448.0,314.0 L446.4,308.0Z" fill="#b7cca5"/>
<path d="M468.0,294.0 L474.0,299.0 L480.0,304.0 L486.0,308.0 L486.0,315.0 L480.0,319.0 L474.0,320.0 L470.0,324.0 L466.0,326.0 L462.0,325.0 L459.0,320.0 L458.0,318.0 L468.0,317.0 L467.0,306.0Z" fill="#b7cca5"/>
<path d="M486.0,308.0 L493.0,303.0 L500.0,297.0 L503.0,299.0 L508.0,300.0 L508.0,309.0 L507.0,317.0 L504.0,322.0 L497.0,323.0 L490.0,323.0 L486.0,321.0 L482.0,320.0 L486.0,315.0Z" fill="#b7cca5"/>
<path d="M508.0,300.0 L514.0,302.0 L520.0,305.0 L525.6,307.0 L526.0,314.0 L524.0,317.0 L522.0,322.0 L523.0,328.0 L518.0,331.0 L512.0,334.0 L508.0,335.0 L506.0,329.0 L508.0,324.0 L507.0,317.0 L508.0,309.0Z" fill="#b7cca5"/>
<path d="M445.0,320.0 L447.0,316.5 L450.5,315.8 L453.5,318.5 L455.5,323.0 L455.0,324.5 L451.5,325.0 L448.5,324.5 L446.0,323.5Z" fill="#c0692a"/>
<path d="M446.5,324.8 L450.0,325.0 L450.5,327.0 L448.0,328.0 L446.5,326.5Z" fill="#d9a670"/>
<path d="M450.0,325.0 L455.0,324.4 L459.0,326.0 L462.0,329.0 L461.0,333.0 L458.0,335.0 L455.0,331.0 L452.0,330.0 L450.0,328.0Z" fill="#b7cca5"/>
<path d="M452.0,330.4 L455.0,331.0 L457.0,335.0 L454.0,337.0 L452.0,334.0Z" fill="#b7cca5"/>
<path d="M457.0,335.6 L460.0,334.4 L463.0,339.0 L464.0,342.0 L460.0,340.0 L457.6,338.0Z" fill="#d9a670"/>
<path d="M462.0,329.0 L468.0,328.0 L472.0,330.0 L473.0,336.0 L472.4,341.0 L465.0,342.0 L463.0,339.0 L461.0,334.0Z" fill="#d9a670"/>
<path d="M470.0,324.0 L474.0,320.0 L480.0,319.0 L484.0,322.0 L485.0,326.0 L480.0,328.0 L474.0,329.0 L470.0,329.0Z" fill="#d9a670"/>
<path d="M473.0,330.0 L478.0,329.0 L479.0,335.0 L479.6,340.0 L475.0,341.6 L473.0,340.0Z" fill="#d9a670"/>
<path d="M479.0,329.0 L484.0,327.0 L485.0,332.0 L484.0,339.0 L480.0,340.0 L479.6,334.0Z" fill="#d9a670"/>
<path d="M485.0,326.0 L490.0,323.0 L497.0,323.0 L504.0,322.0 L507.0,326.0 L505.0,331.0 L502.0,335.0 L499.0,339.0 L495.0,342.0 L490.0,342.0 L486.0,339.0 L485.0,333.0Z" fill="#b7cca5"/>
<path d="M499.0,339.0 L502.0,335.0 L505.0,331.0 L507.0,327.0 L508.0,330.0 L506.4,335.0 L509.0,340.0 L510.0,346.0 L508.0,349.0 L501.0,349.0 L497.0,348.0 L496.0,344.0Z" fill="#b7cca5"/>
<path d="M508.0,335.0 L512.0,334.0 L518.0,331.0 L523.0,329.0 L526.0,332.0 L530.0,337.0 L532.0,341.0 L526.0,342.0 L520.0,341.0 L514.0,343.0 L510.0,346.0 L509.0,340.0 L506.4,336.0Z" fill="#d9a670"/>
<path d="M546.0,345.0 L552.0,345.6 L559.0,344.4 L558.4,349.0 L558.0,354.0 L559.0,359.0 L555.0,364.0 L548.0,358.0 L545.0,354.0 L546.0,349.0Z" fill="#d9a670"/>
<path d="M538.0,345.0 L543.0,343.6 L546.0,345.0 L546.0,349.0 L544.0,353.0 L540.0,354.0 L537.0,354.0 L536.0,351.0 L537.6,348.0Z" fill="#d9a670"/>
<path d="M508.0,349.0 L510.0,346.4 L514.0,343.6 L513.6,348.0 L511.6,353.0 L509.0,358.0 L506.0,360.0 L503.0,359.0 L504.0,355.0 L502.0,352.4Z" fill="#cd8a48"/>
<path d="M497.0,349.0 L501.0,349.0 L502.0,352.4 L504.0,355.6 L502.4,359.6 L499.0,360.0 L496.0,356.0 L495.6,352.0Z" fill="#cd8a48"/>
<path d="M536.0,353.6 L539.6,354.0 L540.0,357.6 L536.6,358.4Z" fill="#d9a670"/>
<path d="M514.0,346.0 L520.0,344.0 L528.0,343.0 L534.0,343.6 L538.0,346.0 L537.0,352.0 L536.0,357.0 L538.0,360.0 L535.6,364.0 L536.4,369.0 L535.0,373.0 L533.0,379.0 L531.0,381.0 L526.0,379.0 L522.0,376.0 L522.0,372.0 L517.0,371.0 L514.0,373.0 L509.0,368.0 L508.0,362.0 L511.0,357.0 L512.4,351.0Z" fill="#9aab82"/>
<path d="M508.0,350.0 L511.0,347.0 L513.6,346.0 L512.4,351.0 L511.0,357.0 L509.0,362.0 L506.0,364.0 L502.0,363.6 L503.6,359.0 L502.0,356.0Z" fill="#cd8a48"/>
<path d="M497.0,353.0 L501.0,351.6 L503.6,352.0 L505.0,357.0 L503.6,361.0 L501.0,363.6 L498.0,360.0 L496.0,356.0Z" fill="#cd8a48"/>
<path d="M503.0,369.0 L509.0,368.0 L514.0,373.0 L517.0,371.0 L522.0,372.0 L522.0,376.0 L523.0,383.0 L521.0,385.0 L521.0,395.0 L516.0,394.4 L508.0,394.0 L502.0,394.0 L501.6,388.0 L503.6,382.0 L504.4,376.0Z" fill="#d9a670"/>
<path d="M522.0,385.0 L526.0,382.0 L531.0,381.0 L534.0,375.0 L539.0,374.0 L542.0,377.0 L542.4,383.0 L540.0,387.0 L536.0,390.0 L532.0,392.4 L528.0,395.6 L524.0,395.0 L522.0,393.0 L521.0,388.0Z" fill="#d5d6db"/>
<path d="M538.0,360.0 L542.0,357.0 L547.0,358.0 L553.0,364.0 L554.0,370.0 L556.0,377.0 L552.0,379.0 L548.0,380.0 L544.0,378.0 L542.0,377.0 L539.0,374.0 L536.4,369.0 L535.6,364.0Z" fill="#b7cca5"/>
<path d="M542.4,379.0 L544.4,378.0 L545.6,384.0 L547.0,389.0 L545.0,391.0 L543.6,387.0 L542.4,383.0Z" fill="#cd8a48"/>
<path d="M548.0,381.0 L552.0,379.6 L556.4,379.0 L557.0,385.0 L556.0,391.0 L552.0,395.0 L548.0,399.0 L545.0,402.0 L546.0,408.0 L544.4,412.4 L541.0,413.6 L540.0,408.0 L541.0,402.0 L543.0,398.0 L544.0,393.6 L541.6,392.4 L540.0,389.0 L542.4,387.0 L543.6,390.0 L546.0,391.0 L547.0,388.0 L545.6,383.0Z" fill="#cd8a48"/>
<path d="M528.0,396.0 L532.0,393.0 L537.0,391.0 L541.0,392.4 L543.0,395.0 L542.4,400.0 L539.0,405.0 L534.0,404.0 L531.0,400.0Z" fill="#b7cca5"/>
<path d="M519.0,397.0 L525.0,396.0 L528.0,396.4 L531.0,400.0 L534.0,404.4 L532.0,409.0 L527.0,413.0 L522.0,415.0 L519.0,417.0 L517.6,410.0 L518.0,402.0Z" fill="#b7cca5"/>
<path d="M502.0,395.0 L509.0,394.6 L516.0,395.0 L521.0,395.6 L519.0,397.0 L518.0,402.0 L517.6,410.0 L517.0,417.0 L516.0,422.0 L512.0,421.6 L509.0,416.0 L506.0,408.0 L503.6,401.0Z" fill="#d9a670"/>
<path d="M511.0,422.4 L516.0,422.4 L519.0,417.6 L522.4,415.6 L527.6,413.6 L532.4,409.6 L535.6,407.6 L539.0,408.0 L539.6,413.0 L541.6,414.4 L540.0,420.0 L537.0,425.0 L533.0,430.0 L528.0,434.0 L522.0,436.0 L517.0,437.6 L514.4,434.0 L513.0,428.0Z" fill="#cd8a48"/>
<path d="M538.0,415.6 L540.4,415.0 L541.0,418.0 L538.6,418.6Z" fill="#b7cca5"/>
<path d="M568.0,389.0 L571.0,385.0 L573.6,383.0 L575.0,387.0 L574.4,393.0 L572.4,400.0 L570.0,408.0 L568.0,413.0 L565.0,414.4 L562.4,411.0 L562.4,404.0 L564.0,397.0 L564.4,392.4Z" fill="#b7cca5"/>
<path d="M527.5,303.5 L549.0,303.5 L550.0,307.0 L552.0,310.5 L551.5,312.5 L549.5,315.0 L548.0,320.0 L546.0,324.0 L544.0,328.5 L542.5,327.0 L541.0,326.0 L539.5,329.0 L536.0,330.5 L533.0,330.0 L531.0,331.5 L528.0,330.5 L525.5,331.0 L524.0,329.0 L522.5,325.0 L522.0,321.5 L524.0,318.5 L525.5,314.0 L525.0,309.0 L527.5,308.0Z" fill="#c0692a"/>
<path d="M525.5,331.2 L528.0,330.7 L531.0,331.7 L533.0,330.2 L536.0,330.7 L539.5,329.2 L541.0,326.2 L542.5,327.2 L544.0,329.0 L543.0,335.5 L545.0,338.0 L547.0,341.0 L544.0,343.0 L540.0,344.0 L537.0,344.5 L534.0,343.0 L531.0,341.0 L528.5,337.0 L526.5,333.5Z" fill="#d9a670"/>
<path d="M543.0,335.5 L545.0,330.0 L548.0,323.0 L551.0,320.5 L554.0,321.5 L557.0,324.5 L560.0,327.0 L561.0,329.0 L563.5,331.5 L567.0,334.5 L570.0,336.2 L567.8,339.2 L564.0,342.0 L559.5,344.8 L555.0,345.0 L551.0,343.5 L547.5,341.0 L545.0,338.0Z" fill="#b7cca5"/>
<path d="M550.0,313.0 L553.0,316.0 L556.0,320.0 L560.0,324.0 L561.5,325.5 L560.0,326.2 L557.0,323.5 L554.0,320.5 L551.0,318.5 L549.5,316.5Z" fill="#d5d6db"/>
<path d="M561.5,328.5 L567.0,330.0 L573.0,328.0 L577.0,326.5 L576.5,330.0 L574.5,335.0 L571.0,341.0 L567.0,347.0 L563.0,353.0 L560.0,356.0 L558.5,356.0 L558.5,350.0 L559.5,345.0 L564.0,342.0 L568.0,339.0 L570.0,336.0 L567.0,334.0 L563.5,331.0Z" fill="#d5d6db"/>
<path d="M301.0,317.0 L301.0,317.0 L302.0,320.0 L302.0,320.0 L302.0,320.0 L304.4,320.8 L304.5,320.9 L304.6,320.9 L304.8,321.0 L304.9,321.1 L304.9,321.1 L305.0,321.2 L305.1,321.4 L305.2,321.5 L305.2,321.6 L305.6,322.6 L305.6,322.6 L305.6,322.6 L308.4,323.2 L308.4,323.2 L308.5,323.2 L308.6,323.2 L308.7,323.1 L308.8,323.1 L309.0,323.2 L309.1,323.2 L309.2,323.2 L309.3,323.3 L309.4,323.3 L309.6,323.4 L309.6,323.5 L309.7,323.6 L309.8,323.7 L309.9,323.8 L310.0,323.9 L310.0,324.0 L310.0,324.0 L310.0,324.0 L312.0,327.0 L312.0,327.0 L312.0,327.0 L312.1,327.1 L312.2,327.2 L312.2,327.3 L312.3,327.4 L312.3,327.5 L312.4,327.6 L312.4,327.8 L312.4,327.9 L312.4,328.0 L312.4,328.0 L312.4,329.6 L312.4,329.6 L312.4,329.6 L314.4,331.6 L314.4,331.6 L314.4,331.6 L317.6,333.6 L317.6,333.6 L317.6,333.6 L317.7,333.5 L317.8,333.5 L317.9,333.4 L318.1,333.4 L318.2,333.4 L318.3,333.4 L318.4,333.4 L318.6,333.4 L318.7,333.4 L318.8,333.5 L318.9,333.5 L319.0,333.6 L319.1,333.7 L319.2,333.8 L319.3,333.9 L319.4,334.0 L319.5,334.1 L319.5,334.2 L319.6,334.3 L319.6,334.4 L319.6,334.4 L319.6,334.4 L321.6,336.0 L321.6,336.0 L321.6,336.0 L322.9,335.0 L323.0,334.9 L323.1,334.9 L323.2,334.8 L323.3,334.8 L323.4,334.7 L323.6,334.7 L323.7,334.7 L323.8,334.7 L323.9,334.7 L324.0,334.8 L324.2,334.8 L324.3,334.9 L324.4,334.9 L326.0,336.0 L326.0,336.0 L326.0,336.0 L327.6,335.5 L327.7,335.4 L327.9,335.4 L328.0,335.4 L328.1,335.4 L328.2,335.4 L328.4,335.4 L328.5,335.5 L328.6,335.5 L328.7,335.6 L328.8,335.7 L328.9,335.8 L329.0,335.9 L329.1,336.0 L329.2,336.1 L329.2,336.2 L329.3,336.3 L329.3,336.4 L329.9,339.6 L329.9,339.7 L329.9,339.9 L329.9,340.0 L329.9,340.1 L329.9,340.2 L329.9,340.4 L328.0,345.0 L328.0,345.0 L328.0,345.0 L327.0,350.0 L327.0,350.0 L327.0,350.1 L327.1,350.2 L327.1,350.3 L327.2,350.4 L327.2,350.5 L327.2,350.7 L327.2,350.8 L327.2,350.9 L327.2,351.1 L327.1,351.2 L327.1,351.3 L327.0,351.4 L326.9,351.5 L326.8,351.6 L326.7,351.7 L326.6,351.8 L326.5,351.8 L326.4,351.9 L326.3,351.9 L326.2,352.0 L326.0,352.0 L326.0,352.0 L326.0,352.0 L326.0,352.0 L323.0,355.0 L323.0,355.0 L323.0,355.0 L322.4,360.0 L322.4,360.0 L322.4,360.0 L323.2,363.5 L323.3,363.6 L323.3,363.7 L323.3,363.9 L323.3,364.0 L323.2,364.1 L323.2,364.2 L323.1,364.4 L323.1,364.5 L323.0,364.6 L322.9,364.7 L322.8,364.8 L322.7,364.8 L322.6,364.9 L322.5,365.0 L322.4,365.0 L322.4,365.0 L322.4,365.0 L323.6,370.0 L323.6,370.0 L323.6,370.0 L327.0,376.0 L327.0,376.0 L329.0,380.0 L329.0,380.0 L333.0,386.0 L333.0,386.0 L337.0,391.0 L337.0,391.0 L341.0,395.0 L341.0,395.0 L341.0,395.0 L341.6,395.2 L341.7,395.2 L341.8,395.3 L341.9,395.4 L342.0,395.5 L342.1,395.5 L342.2,395.6 L342.3,395.7 L342.4,395.9 L342.4,396.0 L342.4,396.1 L342.5,396.2 L342.5,396.4 L343.0,404.9 L343.0,405.0 L343.0,405.1 L338.7,439.5 L338.7,439.6 L338.6,439.7 L338.6,439.9 L338.5,440.0 L338.5,440.0 L338.5,440.0 L337.2,444.0 L337.2,444.0 L337.2,444.0 L336.5,450.0 L336.5,450.0 L334.5,465.9 L334.5,466.1 L333.0,473.0 L333.0,473.0 L332.5,479.0 L332.5,479.0 L332.5,479.0 L333.5,484.0 L333.5,484.0 L333.5,484.0 L337.0,488.5 L337.0,488.5 L337.0,488.5 L341.0,492.0 L341.0,492.0 L341.0,492.0 L345.0,494.5 L345.0,494.5 L345.0,494.5 L348.5,495.0 L348.5,495.0 L348.5,494.9 L348.5,494.9 L348.5,494.8 L348.4,494.7 L348.4,494.6 L348.4,494.5 L348.4,494.3 L348.5,494.2 L348.5,494.1 L348.6,494.0 L348.6,493.9 L348.7,493.8 L348.8,493.7 L348.9,493.6 L349.0,493.5 L349.1,493.4 L349.2,493.4 L349.3,493.3 L349.4,493.3 L349.5,493.3 L349.7,493.3 L349.8,493.3 L349.9,493.3 L351.5,493.5 L351.5,493.5 L351.5,493.5 L352.0,492.5 L352.0,492.5 L352.0,492.5 L349.7,491.6 L349.6,491.5 L349.5,491.5 L349.4,491.4 L349.3,491.3 L347.1,489.1 L346.9,488.9 L345.5,487.0 L345.5,487.0 L344.8,486.0 L344.7,485.9 L344.7,485.8 L344.6,485.7 L344.6,485.5 L344.6,485.4 L344.6,485.3 L344.6,485.2 L344.6,485.0 L344.6,484.9 L344.7,484.8 L344.7,484.7 L344.8,484.6 L344.9,484.5 L344.9,484.4 L345.0,484.3 L345.1,484.2 L345.2,484.1 L345.3,484.1 L345.5,484.0 L345.5,484.0 L345.5,484.0 L345.1,481.7 L345.1,481.5 L345.1,481.4 L345.1,481.3 L345.1,481.2 L345.2,481.0 L345.2,480.9 L345.3,480.8 L345.3,480.7 L345.4,480.6 L345.5,480.5 L347.0,479.0 L347.0,479.0 L347.0,479.0 L347.9,477.2 L348.0,477.1 L348.1,477.0 L348.1,476.9 L350.0,475.0 L350.0,475.0 L350.0,475.0 L351.0,472.0 L351.0,472.0 L351.0,472.0 L351.0,471.9 L350.9,471.8 L350.9,471.7 L350.9,471.6 L350.9,471.4 L350.9,471.3 L350.9,471.2 L351.0,471.1 L351.0,471.0 L351.0,471.0 L351.0,471.0 L349.5,468.8 L349.5,468.7 L349.4,468.6 L349.4,468.4 L349.3,468.3 L349.3,468.2 L349.3,468.1 L349.3,468.0 L349.3,467.8 L349.4,467.7 L349.4,467.6 L349.5,467.5 L349.5,467.4 L349.6,467.3 L353.0,463.0 L353.0,463.0 L356.0,459.0 L356.0,459.0 L356.0,459.0 L355.2,455.9 L355.2,455.8 L355.2,455.6 L355.2,455.5 L355.2,455.4 L355.2,455.3 L355.3,455.2 L355.3,455.0 L355.3,454.9 L355.4,454.8 L355.5,454.7 L355.6,454.6 L355.7,454.6 L355.8,454.5 L358.0,453.0 L358.0,453.0 L358.0,453.0 L358.8,448.8 L358.9,448.7 L358.9,448.6 L359.0,448.5 L359.0,448.4 L359.1,448.3 L359.2,448.2 L359.3,448.1 L359.4,448.0 L359.5,448.0 L359.6,447.9 L359.7,447.9 L359.8,447.8 L364.0,447.0 L364.0,447.0 L364.0,447.0 L368.4,445.0 L368.4,445.0 L368.4,445.0 L369.0,441.0 L369.0,441.0 L369.0,441.0 L366.9,438.9 L366.8,438.8 L366.7,438.7 L366.7,438.6 L366.6,438.5 L366.6,438.4 L366.6,438.2 L366.5,438.1 L366.5,438.0 L366.5,437.8 L366.6,437.7 L366.6,437.6 L366.6,437.5 L366.7,437.4 L366.8,437.2 L366.8,437.1 L366.9,437.1 L367.0,437.0 L367.1,436.9 L367.2,436.8 L367.4,436.8 L367.5,436.7 L367.6,436.7 L367.7,436.7 L367.9,436.7 L368.0,436.7 L368.1,436.7 L371.0,437.4 L371.0,437.4 L371.0,437.4 L375.0,436.0 L375.0,436.0 L375.0,436.0 L376.9,433.1 L377.0,433.0 L377.1,432.9 L379.0,431.0 L379.0,431.0 L383.0,426.0 L383.0,426.0 L383.0,426.0 L385.6,421.0 L385.6,421.0 L385.6,421.0 L385.1,416.5 L385.1,416.4 L385.1,416.3 L385.1,416.2 L385.1,416.0 L385.1,415.9 L385.2,415.8 L385.3,415.7 L385.3,415.6 L388.9,411.2 L388.9,411.1 L389.0,411.0 L389.1,410.9 L389.2,410.9 L399.0,405.0 L399.0,405.0 L399.0,405.0 L402.0,399.0 L402.0,399.0 L402.0,399.0 L402.4,393.1 L402.4,393.0 L402.4,392.9 L403.9,386.3 L404.0,386.2 L404.0,386.1 L404.1,386.0 L404.1,385.9 L404.2,385.8 L408.0,381.0 L408.0,381.0 L408.0,381.0 L410.0,376.0 L410.0,376.0 L410.0,376.0 L411.0,369.0 L411.0,369.0 L411.0,369.0 L406.0,365.0 L406.0,365.0 L406.0,365.0 L398.0,361.0 L398.0,361.0 L390.0,358.0 L390.0,358.0 L384.5,356.2 L384.4,356.1 L384.3,356.1 L384.2,356.0 L384.1,355.9 L384.0,355.8 L383.9,355.7 L383.8,355.6 L383.8,355.5 L381.0,350.1 L381.0,349.9 L379.6,346.0 L379.6,346.0 L379.6,346.0 L379.5,346.0 L379.4,345.9 L379.3,345.8 L379.2,345.8 L379.1,345.7 L379.0,345.6 L378.9,345.5 L377.0,342.4 L377.0,342.4 L377.0,342.4 L373.9,341.7 L373.7,341.6 L373.6,341.6 L373.5,341.5 L373.4,341.4 L373.3,341.4 L373.2,341.3 L373.1,341.2 L373.0,341.1 L373.0,341.0 L373.0,341.0 L373.0,341.0 L368.6,341.5 L368.4,341.5 L368.3,341.5 L368.2,341.5 L368.1,341.5 L368.0,341.5 L367.8,341.4 L367.7,341.3 L367.6,341.3 L367.5,341.2 L367.4,341.1 L367.4,341.0 L367.3,340.9 L367.2,340.8 L367.2,340.7 L367.2,340.5 L367.1,340.4 L367.0,339.5 L367.0,339.5 L367.0,339.5 L365.5,337.0 L365.5,337.0 L365.5,337.0 L363.5,335.0 L363.5,335.0 L363.5,335.0 L362.8,335.2 L362.7,335.2 L362.6,335.2 L362.4,335.2 L362.3,335.2 L362.2,335.2 L362.1,335.1 L361.9,335.1 L361.8,335.0 L361.7,334.9 L361.6,334.9 L361.5,334.8 L361.4,334.7 L361.4,334.6 L361.3,334.4 L361.3,334.3 L360.5,332.0 L360.5,332.0 L360.5,332.0 L358.5,330.0 L358.5,330.0 L358.5,330.0 L355.0,329.5 L355.0,329.5 L355.0,329.5 L351.1,330.0 L350.9,330.0 L347.4,330.0 L347.2,330.0 L347.1,330.0 L347.0,330.0 L346.9,329.9 L346.8,329.9 L346.7,329.8 L344.5,328.5 L344.5,328.5 L344.5,328.5 L342.0,327.5 L342.0,327.5 L342.0,327.5 L341.9,327.6 L341.8,327.6 L341.6,327.7 L341.5,327.7 L341.4,327.7 L341.3,327.7 L341.1,327.7 L341.0,327.7 L340.9,327.6 L340.8,327.6 L340.7,327.5 L340.5,327.5 L340.4,327.4 L340.4,327.3 L340.3,327.2 L340.2,327.1 L340.1,327.0 L340.1,326.9 L340.0,326.7 L340.0,326.6 L340.0,326.5 L340.0,326.4 L340.0,326.4 L340.0,326.4 L336.0,328.0 L336.0,328.0 L336.0,328.0 L332.0,331.0 L332.0,331.0 L332.0,331.0 L329.9,333.8 L329.8,333.9 L329.7,334.0 L329.6,334.1 L329.5,334.1 L329.4,334.2 L329.3,334.3 L329.1,334.3 L329.0,334.3 L328.9,334.3 L328.8,334.3 L328.6,334.3 L328.5,334.3 L328.4,334.2 L328.3,334.2 L328.1,334.1 L328.0,334.0 L327.9,333.9 L327.0,333.0 L327.0,333.0 L327.0,333.0 L323.0,331.6 L323.0,331.6 L323.0,331.6 L320.0,332.2 L319.9,332.2 L319.8,332.2 L319.7,332.2 L319.5,332.2 L319.4,332.2 L319.3,332.1 L319.2,332.1 L319.1,332.0 L319.0,331.9 L318.9,331.9 L318.8,331.8 L316.5,329.1 L316.4,329.0 L316.4,328.9 L316.3,328.8 L316.3,328.7 L316.2,328.6 L316.2,328.5 L316.2,328.3 L316.2,328.2 L316.2,328.1 L316.2,328.0 L316.3,327.8 L316.3,327.7 L317.6,325.0 L317.6,325.0 L317.6,325.0 L318.0,319.6 L318.0,319.6 L318.0,319.6 L318.0,319.5 L317.9,319.4 L317.8,319.3 L317.8,319.2 L317.8,319.1 L317.7,319.0 L317.7,318.8 L317.7,318.7 L317.8,318.6 L317.8,318.5 L317.8,318.4 L317.9,318.2 L318.0,318.0 L318.0,318.0 L318.0,318.0 L313.0,317.0 L313.0,317.0 L313.0,317.0 L309.4,318.0 L309.3,318.0 L309.2,318.1 L309.0,318.1 L308.9,318.0 L308.8,318.0 L308.6,318.0 L308.5,317.9 L308.4,317.9 L308.3,317.8 L308.2,317.7 L308.1,317.6 L308.0,317.5 L308.0,317.4 L307.9,317.3 L307.8,317.2 L307.8,317.1 L307.8,317.0 L307.8,316.8 L307.8,316.7 L307.8,316.6 L307.8,316.4 L307.8,316.3 L307.9,316.2 L307.9,316.1 L308.0,316.0 L308.0,316.0 L308.0,316.0 L308.0,311.6 L308.0,311.6 L308.0,311.6 L306.9,312.2 L306.8,312.3 L306.7,312.3 L306.5,312.4 L306.4,312.4 L306.3,312.4 L303.0,312.4 L303.0,312.4 L303.0,312.4 L301.0,317.0ZM361.0,483.5 L361.0,483.5 L361.5,485.0 L361.5,485.0 L361.5,485.0 L365.5,484.5 L365.5,484.5 L365.5,484.5 L366.0,483.0 L366.0,483.0 L366.0,483.0 L361.0,483.5ZM315.0,301.0 L315.0,301.0 L316.4,302.4 L316.4,302.4 L316.4,302.4 L320.9,303.0 L321.1,303.0 L325.9,304.4 L326.1,304.4 L331.0,306.4 L331.0,306.4 L335.2,307.4 L335.3,307.4 L335.4,307.5 L335.5,307.5 L335.6,307.6 L335.7,307.7 L335.8,307.8 L335.9,307.9 L336.0,308.0 L336.0,308.1 L336.1,308.2 L337.0,311.0 L337.0,311.0 L337.0,311.0 L339.3,311.0 L339.4,311.0 L339.6,311.0 L339.7,311.1 L339.8,311.1 L339.9,311.2 L340.0,311.2 L340.0,311.2 L346.0,311.0 L346.0,311.0 L346.0,311.0 L346.0,310.9 L345.0,309.0 L345.0,309.0 L345.0,309.0 L339.6,307.6 L339.6,307.6 L339.5,307.6 L339.5,307.6 L339.4,307.6 L339.3,307.6 L339.2,307.6 L339.0,307.6 L339.0,307.6 L339.0,307.6 L337.1,307.9 L336.9,307.9 L336.8,307.9 L336.7,307.9 L336.6,307.8 L336.5,307.8 L336.3,307.7 L336.2,307.7 L336.1,307.6 L336.0,307.5 L335.9,307.5 L335.9,307.4 L335.8,307.3 L335.0,306.0 L335.0,306.0 L335.0,306.0 L330.0,303.6 L330.0,303.6 L325.0,301.0 L325.0,301.0 L325.0,301.0 L320.0,299.6 L320.0,299.6 L320.0,299.6 L315.0,301.0ZM348.4,310.8 L348.4,310.8 L348.4,310.9 L348.5,311.0 L348.5,311.1 L348.6,311.6 L348.6,311.6 L348.6,311.6 L351.6,311.6 L351.6,311.6 L351.6,311.6 L351.6,310.4 L351.6,310.4 L351.6,310.4 L348.4,310.6 L348.4,310.6 L348.4,310.7 L348.4,310.7ZM328.0,310.6 L328.0,310.6 L328.4,311.6 L328.4,311.6 L328.4,311.6 L330.6,311.6 L330.6,311.6 L330.6,311.6 L330.4,310.4 L330.4,310.4 L330.4,310.4 L328.0,310.6Z" fill="#cd8a48" stroke="none"/>
<path d="M322.4,365.0 L327.0,363.0 L330.0,359.0 L333.0,355.6 L337.0,358.0 L341.0,360.0 L343.0,363.0 L339.0,366.0 L337.0,370.0 L338.0,375.0 L342.0,378.0 L346.0,381.0 L345.6,381.0 L345.0,387.0 L346.0,392.0 L344.0,396.0 L341.0,395.0 L337.0,391.0 L333.0,386.0 L329.0,380.0 L327.0,376.0 L323.6,370.0Z" fill="#b7cca5"/>
<path d="M344.0,354.0 L347.0,352.0 L350.0,352.4 L354.0,350.0 L358.0,347.0 L361.0,345.0 L363.0,348.4 L366.0,350.4 L370.0,349.0 L374.0,348.0 L377.0,348.4 L379.6,346.0 L381.0,350.0 L384.0,356.0 L390.0,358.0 L398.0,361.0 L406.0,365.0 L411.0,369.0 L410.0,376.0 L408.0,381.0 L404.0,386.0 L402.4,393.0 L402.0,399.0 L399.0,405.0 L394.0,408.0 L389.0,411.0 L385.0,416.0 L385.6,421.0 L383.0,426.0 L379.0,431.0 L377.0,433.0 L374.0,429.0 L370.0,426.6 L368.0,424.0 L371.0,420.6 L375.0,417.0 L373.0,413.0 L371.0,409.0 L368.0,406.0 L367.0,401.0 L367.6,396.0 L364.0,392.0 L362.0,387.0 L358.0,384.0 L353.0,382.0 L352.0,377.4 L349.0,378.6 L345.6,381.0 L346.0,381.0 L342.0,378.0 L338.0,375.0 L337.0,370.0 L339.0,366.0 L343.0,363.0 L343.6,359.0Z" fill="#cd8a48"/>
<path d="M301.0,317.0 L303.0,312.4 L306.4,312.4 L307.0,316.0 L308.0,318.0 L305.0,321.0 L302.0,320.0Z" fill="#b7cca5"/>
<path d="M306.6,312.4 L308.0,311.6 L308.0,316.0 L307.0,315.6Z" fill="#d9a670"/>
<path d="M308.0,318.4 L313.0,317.0 L318.0,318.0 L317.0,320.0 L313.0,322.0 L310.0,321.6Z" fill="#b7cca5"/>
<path d="M305.0,321.0 L309.0,321.6 L308.4,323.2 L305.6,322.6Z" fill="#cd8a48"/>
<path d="M311.0,322.0 L315.0,321.0 L318.0,319.6 L317.6,325.0 L316.0,328.4 L312.0,327.0 L310.0,324.0Z" fill="#b7cca5"/>
<path d="M312.4,328.0 L316.4,329.0 L319.0,332.0 L317.6,333.6 L314.4,331.6 L312.4,329.6Z" fill="#d9a670"/>
<path d="M319.0,332.4 L323.0,331.6 L327.0,333.0 L329.0,335.0 L326.0,336.0 L323.6,334.4 L321.6,336.0 L319.6,334.4Z" fill="#d9a670"/>
<path d="M329.0,335.0 L332.0,331.0 L336.0,328.0 L340.0,326.4 L339.0,330.0 L338.0,334.0 L341.0,338.0 L347.0,339.0 L347.6,344.0 L346.0,349.0 L347.0,352.0 L344.0,354.0 L343.0,359.0 L339.0,357.0 L334.0,354.0 L330.0,351.0 L327.0,350.0 L328.0,345.0 L330.0,340.0Z" fill="#d9a670"/>
<path d="M368.0,341.6 L373.0,341.0 L373.6,347.0 L370.0,348.4 L368.0,347.0Z" fill="#cd8a48"/>
<path d="M373.6,341.6 L377.0,342.4 L379.0,345.6 L376.0,348.0 L374.0,347.0Z" fill="#d5d6db"/>
<path d="M323.0,355.0 L326.0,352.0 L330.0,351.6 L333.0,355.0 L330.0,359.0 L327.0,363.0 L323.6,365.0 L322.4,360.0Z" fill="#d5d6db"/>
<path d="M345.6,381.0 L349.0,378.6 L352.0,377.4 L353.0,382.0 L358.0,384.0 L362.0,387.0 L364.0,392.0 L367.6,396.0 L367.0,400.0 L363.0,400.0 L359.0,402.0 L357.6,406.0 L353.0,406.6 L350.0,407.0 L347.6,403.0 L346.0,397.0 L345.6,392.0 L345.0,387.0Z" fill="#cd8a48"/>
<path d="M358.0,402.0 L363.0,400.0 L367.0,401.0 L368.0,406.0 L371.0,409.0 L373.0,413.0 L375.0,417.0 L371.0,420.6 L368.0,420.0 L368.4,415.0 L364.0,412.0 L360.0,408.0 L358.0,405.0Z" fill="#b7cca5"/>
<path d="M350.0,407.4 L353.0,406.6 L357.6,406.6 L360.0,408.6 L364.0,412.6 L368.4,415.4 L368.0,420.0 L371.0,420.6 L368.0,424.6 L366.4,429.0 L365.6,434.0 L366.0,438.0 L369.0,441.0 L368.4,445.0 L364.0,447.0 L359.0,448.0 L358.0,453.0 L355.0,455.0 L356.0,459.0 L353.0,463.0 L349.0,468.0 L351.0,471.0 L349.0,475.0 L347.0,479.0 L344.0,482.0 L342.0,484.6 L339.0,483.0 L338.0,477.0 L339.0,469.0 L340.0,461.0 L340.4,453.0 L341.0,445.0 L342.0,437.0 L343.0,429.0 L344.0,421.0 L345.6,414.0 L347.0,409.0Z" fill="#cd8a48"/>
<path d="M368.0,425.0 L371.0,426.6 L374.0,429.4 L377.0,433.0 L375.0,436.0 L371.0,437.4 L367.6,436.6 L366.4,433.0 L367.0,428.6Z" fill="#d9a670"/>
<path d="M342.4,395.0 L345.6,397.0 L347.0,403.0 L348.0,408.0 L345.6,414.0 L344.0,421.0 L343.0,429.0 L342.0,437.0 L341.0,445.0 L340.4,453.0 L340.0,461.0 L339.0,469.0 L338.0,477.0 L339.0,483.0 L342.0,485.0 L345.0,486.6 L340.0,487.0 L335.0,484.0 L333.6,477.0 L334.4,469.0 L336.0,461.0 L337.0,453.0 L338.0,445.0 L339.0,437.0 L340.0,429.0 L341.0,421.0 L342.0,413.0 L343.0,405.0Z" fill="#b7cca5"/>
<path d="M315.0,301.0 L320.0,299.6 L325.0,301.0 L330.0,303.6 L335.0,306.0 L336.0,307.6 L331.0,306.4 L326.0,304.4 L321.0,303.0 L316.4,302.4Z" fill="#d5d6db"/>
<path d="M328.0,310.6 L330.4,310.4 L330.6,311.6 L328.4,311.6Z" fill="#cd8a48"/>
<path d="M336.0,308.0 L339.0,307.6 L339.6,311.0 L337.0,311.0Z" fill="#b7cca5"/>
<path d="M339.6,307.6 L345.0,309.0 L346.0,311.0 L340.0,311.2Z" fill="#d9a670"/>
<path d="M348.4,310.6 L351.6,310.4 L351.6,311.6 L348.6,311.6Z" fill="#b7cca5"/>
<path d="M338.5,440.0 L341.5,440.0 L340.5,450.0 L340.0,458.0 L340.5,465.0 L339.5,472.0 L338.0,478.0 L337.5,481.0 L339.5,484.0 L344.0,484.8 L345.5,487.0 L346.0,491.5 L348.0,493.5 L348.5,495.0 L345.0,494.5 L341.0,492.0 L337.0,488.5 L333.5,484.0 L332.5,479.0 L333.0,473.0 L334.5,466.0 L335.5,458.0 L336.5,450.0 L337.2,444.0Z" fill="#b7cca5"/>
<path d="M345.5,487.0 L347.0,489.0 L349.5,491.5 L352.0,492.5 L351.5,493.5 L348.0,493.0 L346.0,491.5Z" fill="#cd8a48"/>
<path d="M339.5,472.0 L340.5,465.0 L340.0,458.0 L342.0,455.0 L350.0,455.0 L353.0,463.0 L349.0,467.0 L348.0,470.0 L351.0,472.0 L350.0,475.0 L347.0,478.0 L345.0,481.0 L345.5,484.0 L344.0,484.7 L339.5,484.0 L337.5,481.0 L338.0,478.0Z" fill="#cd8a48"/>
<path d="M361.0,483.5 L366.0,483.0 L365.5,484.5 L361.5,485.0Z" fill="#d5d6db"/>
<path d="M338.0,332.0 L340.0,328.5 L342.0,327.5 L344.5,328.5 L347.0,330.0 L351.0,330.0 L355.0,329.5 L358.5,330.0 L360.5,332.0 L361.5,335.0 L362.5,337.0 L361.0,340.0 L360.5,343.0 L358.5,344.5 L357.0,346.0 L355.0,349.0 L354.0,351.0 L352.0,352.0 L350.0,350.0 L349.0,346.0 L347.5,343.0 L348.0,340.0 L344.5,339.0 L341.0,337.0 L339.0,334.5Z" fill="#d5d6db"/>
<path d="M361.5,335.5 L363.5,335.0 L365.5,337.0 L367.0,339.5 L367.5,343.0 L367.0,347.0 L365.5,350.0 L363.5,349.0 L362.5,346.0 L362.0,343.0 L360.8,340.5 L362.2,337.5Z" fill="#b7cca5"/>
<path d="M698.0,408.0 L702.0,404.0 L708.0,401.6 L713.0,398.0 L716.0,393.0 L720.0,389.0 L725.0,387.0 L729.0,383.0 L733.0,382.0 L737.0,383.0 L741.0,384.0 L740.0,388.0 L745.0,392.0 L749.0,395.0 L751.0,390.0 L752.0,384.0 L753.0,380.0 L754.4,382.0 L756.0,388.0 L758.4,393.0 L761.0,398.0 L765.0,403.0 L768.0,408.0 L771.0,412.0 L773.6,418.0 L774.0,425.0 L772.4,432.0 L770.0,438.0 L768.0,444.0 L764.0,447.0 L760.0,448.0 L755.0,447.0 L751.0,445.0 L748.0,441.0 L746.0,438.0 L744.0,435.0 L742.0,438.0 L739.0,435.0 L736.0,431.0 L731.0,430.0 L726.0,431.0 L720.0,432.0 L715.0,434.0 L710.0,437.0 L705.0,438.0 L701.0,436.0 L702.0,430.0 L700.0,424.0 L698.0,418.0 L697.0,413.0Z" fill="#d9a670"/>
<path d="M757.0,454.0 L760.0,455.0 L763.6,453.6 L763.0,458.0 L761.0,461.0 L758.4,459.0Z" fill="#d9a670"/>
<path d="M795.0,402.4 L797.0,403.6 L799.6,406.4 L798.0,406.0Z" fill="#d5d6db"/>
<path d="M821.0,394.4 L823.6,393.0 L824.0,394.4 L821.6,396.4Z" fill="#c0692a"/>
<path d="M811.0,437.2 L812.5,438.0 L814.5,439.5 L815.0,442.5 L817.0,443.5 L819.0,445.5 L822.5,445.5 L821.5,448.5 L819.5,451.0 L817.5,453.5 L816.0,455.5 L814.8,454.0 L816.0,451.5 L814.5,450.5 L813.5,449.0 L815.5,447.0 L814.8,444.5 L813.5,441.5 L812.0,439.0Z" fill="#d9a670" stroke="#d9a670" stroke-width="0.4" stroke-opacity="1"/>
<path d="M810.5,454.0 L812.0,454.5 L814.0,454.5 L813.5,457.0 L812.0,459.0 L811.0,461.0 L808.5,462.5 L807.0,465.5 L804.5,469.0 L802.0,468.5 L799.5,467.0 L801.0,465.0 L804.0,462.5 L807.0,460.0 L809.0,457.5 L810.0,455.5Z" fill="#d9a670" stroke="#d9a670" stroke-width="0.4" stroke-opacity="1"/>
<path d="M731.5,356.5 L734.0,355.0 L736.5,356.0 L737.0,358.0 L735.5,359.5 L734.0,360.0 L734.5,362.0 L736.5,363.0 L738.5,362.0 L740.5,360.0 L743.0,358.5 L746.0,359.0 L750.0,361.0 L750.0,374.5 L748.0,373.5 L746.5,372.0 L744.5,373.5 L745.5,371.0 L744.0,368.5 L742.0,366.0 L740.0,364.0 L737.5,364.0 L735.0,363.5 L733.5,361.0 L732.0,359.0Z" fill="#b7cca5" stroke="#b7cca5" stroke-width="0.4" stroke-opacity="1"/>
<path d="M750.5,361.0 L754.0,362.5 L757.0,364.5 L759.5,367.0 L761.0,369.5 L763.0,370.5 L761.5,372.0 L764.0,374.5 L767.0,376.5 L769.0,377.5 L768.5,379.0 L766.0,378.0 L763.5,376.5 L761.0,374.5 L759.0,373.0 L757.0,374.0 L755.0,375.5 L750.5,375.0Z" fill="#d9a670" stroke="#d9a670" stroke-width="0.4" stroke-opacity="1"/>
<path d="M764.0,367.5 L767.0,368.5 L770.0,367.5 L772.0,365.0 L772.5,363.0 L773.5,363.5 L773.5,365.5 L771.5,368.0 L768.5,369.5 L765.5,369.0Z" fill="#d9a670" stroke="#d9a670" stroke-width="0.2" stroke-opacity="1"/>
<path d="M708.5,353.0 L711.0,351.5 L715.0,351.5 L718.5,350.5 L719.5,351.5 L716.5,353.0 L713.0,353.5 L714.0,356.0 L715.5,357.5 L714.0,359.0 L715.0,363.0 L715.5,366.0 L714.0,366.5 L712.5,363.5 L711.5,361.0 L710.0,363.0 L709.5,366.5 L708.0,366.0 L707.5,362.0 L708.5,358.0 L709.0,355.0Z" fill="#b7cca5" stroke="#b7cca5" stroke-width="0.5" stroke-opacity="1"/>
<path d="M724.0,349.5 L725.5,348.5 L726.2,351.0 L725.0,353.0 L725.8,356.0 L724.5,356.5 L723.8,353.5 L724.0,351.5Z" fill="#b7cca5" stroke="#b7cca5" stroke-width="0.4" stroke-opacity="1"/>
<path d="M721.5,361.5 L723.5,361.8 L723.2,362.8 L721.5,362.6Z" fill="#b7cca5" stroke="#b7cca5" stroke-width="0.3" stroke-opacity="1"/>
<path d="M725.0,361.0 L730.0,361.5 L729.8,362.5 L725.0,362.2Z" fill="#b7cca5" stroke="#b7cca5" stroke-width="0.3" stroke-opacity="1"/>
<path d="M700.0,373.5 L705.0,374.0 L710.0,374.2 L715.0,374.0 L720.0,373.5 L723.5,373.0 L723.5,374.0 L720.0,374.8 L715.0,375.2 L710.0,375.0 L705.0,374.8 L700.0,374.3Z" fill="#b7cca5" stroke="#b7cca5" stroke-width="0.3" stroke-opacity="1"/>
<path d="M708.5,376.5 L711.0,377.0 L710.8,378.0 L708.8,377.6Z" fill="#b7cca5" stroke="#b7cca5" stroke-width="0.3" stroke-opacity="1"/>
<path d="M715.0,379.0 L718.0,377.0 L721.5,375.0 L722.5,375.5 L719.0,378.0 L716.0,379.8Z" fill="#b7cca5" stroke="#b7cca5" stroke-width="0.3" stroke-opacity="1"/>
</g><path d="M576.0,243.0 L584.0,244.0 L586.0,250.0 L582.0,255.0 L580.0,253.0 L579.0,249.5 L576.5,247.0Z" fill="#9aab82"/><path d="M580.0,262.0 L584.0,260.5 L586.0,263.0 L584.0,267.0 L580.0,266.5Z" fill="#b7cca5"/><path d="M580.0,254.0 L581.5,257.0 L583.0,260.5 L581.0,262.0 L580.5,257.0Z" fill="#9aab82"/><path d="M564.5,258.0 L567.0,257.0 L569.0,258.0 L571.0,259.5 L573.5,259.0 L574.0,262.0 L576.0,265.0 L579.0,266.0 L582.0,264.5 L584.0,267.0 L570.0,267.0 L565.0,262.0Z" fill="#b7cca5"/><path d="M566.5,254.0 L570.0,253.0 L573.0,254.0 L574.5,256.0 L573.5,259.0 L571.0,259.5 L569.0,258.0 L567.0,257.0Z" fill="#9aab82"/><path d="M569.0,244.0 L571.0,241.0 L574.5,238.5 L579.0,238.0 L580.5,240.0 L579.5,242.5 L577.0,244.0 L576.5,247.0 L579.0,250.0 L580.0,253.5 L581.0,257.0 L582.5,261.0 L582.0,264.0 L579.0,265.5 L575.5,264.5 L573.0,262.0 L572.5,258.0 L574.0,255.0 L572.5,252.5 L571.0,249.0 L569.5,246.5Z" fill="#fff"/><circle cx="178.5" cy="308.2" r="1.2" fill="#c0692a"/><circle cx="176.4" cy="305.2" r="0.7" fill="#c0692a" opacity="0.6"/><circle cx="173.6" cy="303.5" r="0.5" fill="#c0692a" opacity="0.5"/><circle cx="170.6" cy="302" r="0.6" fill="#c0692a" opacity="0.4"/><circle cx="532.4" cy="425" r="1.5" fill="#cd8a48" stroke="#fff" stroke-width="0.6"/><circle cx="589" cy="402" r="0.7" fill="#c0692a" opacity="0.7"/><path d="M781,371.5 L784,373 L788,375.5 L791,378.5" stroke="#9aab82" stroke-width="1.1" stroke-dasharray="1.6 1.1" fill="none" opacity="0.7"/><circle cx="800" cy="389.7" r="0.7" fill="#9aab82" opacity="0.7"/><circle cx="839.8" cy="386.5" r="0.6" fill="#9aab82" opacity="0.7"/><path d="M776.5,366 L778.5,369.5" stroke="#d9a670" stroke-width="0.8" fill="none" opacity="0.8"/>
<path d="M207.0,168.0 L207.0,198.0 L210.0,200.0 L214.0,203.0 L218.0,207.0 L222.0,211.0 L225.0,215.0 L228.0,219.0 L231.0,222.0 L232.0,226.0" fill="none" stroke="#fff" stroke-width="0.8" stroke-opacity="0.95"/>
<path d="M241.0,232.4 L295.0,232.4 L300.0,233.6 L306.0,235.0 L311.0,237.0 L315.0,240.0 L318.0,243.0 L319.0,247.0 L319.0,251.6 L322.0,251.0 L326.0,248.0 L330.0,246.0 L335.0,244.0 L340.0,241.0 L343.0,238.4 L345.0,237.0 L349.0,236.0 L352.0,233.6 L348.3,240.9 L351.8,242.3" fill="none" stroke="#fff" stroke-width="0.8" stroke-opacity="0.95"/>
<path d="M572.0,239.0 L568.0,234.0 L569.0,230.0 L571.0,227.0 L575.0,224.5 L580.0,225.0 L584.0,227.5 L589.0,226.5 L594.5,225.5 L595.0,221.0 L598.0,218.0 L605.0,216.5 L608.0,215.0 L604.0,216.0 L612.0,213.6 L620.0,217.0 L626.0,216.0 L630.0,220.0 L634.0,224.0 L640.0,228.0 L646.0,232.0 L648.0,234.0" fill="none" stroke="#fff" stroke-width="0.8" stroke-opacity="0.95"/>
<path d="M310.5,130.5 L315.4,128.5 L321.0,126.0" fill="none" stroke="#fff" stroke-width="0.8" stroke-opacity="0.95"/>
<path d="M307.7,138.0 L314.0,136.6 L319.6,135.1" fill="none" stroke="#fff" stroke-width="0.8" stroke-opacity="0.95"/>
<path d="M326.6,133.3 L330.8,132.4 L334.3,131.6" fill="none" stroke="#fff" stroke-width="0.8" stroke-opacity="0.95"/>
<path d="M316.1,141.1 L322.4,140.3 L328.0,139.4" fill="none" stroke="#fff" stroke-width="0.8" stroke-opacity="0.95"/>

</svg>

<div id="zin" style="position:absolute;left:138px;top:440px;width:14.5px;height:14.5px;border-radius:2px;background:#4aa5a2;"></div>
<svg style="position:absolute;left:138px;top:440px" width="15" height="15" viewBox="0 0 15 15"><path d="M2.2,7.2 H12.6 M7.4,2 V12.6" stroke="#d8efee" stroke-width="1.3" fill="none"/></svg>
<div id="zout" style="position:absolute;left:138px;top:458px;width:14.5px;height:14px;border-radius:2px;background:#c6e4e3;"></div>
<svg style="position:absolute;left:138px;top:458px" width="15" height="15" viewBox="0 0 15 15"><path d="M2.6,7 H12" stroke="#eef8f8" stroke-width="1.2" fill="none"/></svg>
<div id="disc" style="position:absolute;left:138.2px;top:481.2px;font-size:9.6px;line-height:11px;color:#4a9e9d;white-space:nowrap;letter-spacing:-0.3px;">MAP DISCLAIMER</div>

<div id="srcline" style="position:absolute;left:428px;top:514.5px;width:548px;height:1px;background:#7a7a7a;"></div>
<div id="src" style="position:absolute;right:26.5px;top:501.5px;font-size:10.5px;line-height:14px;color:#111;white-space:nowrap;"><i>Source:</i> The International Monetary Fund</div>
<div id="copy" style="position:absolute;left:542px;top:531.5px;font-size:7.37px;line-height:9px;font-style:italic;color:#222;white-space:nowrap;">COPYRIGHT SILVERWOOD VENTURES 2024&#8211;2026 and SILVERWOOD PARTNERS 2001-2026</div>

<svg id="logos" width="420" height="70" viewBox="0 490 420 70" style="position:absolute;left:0;top:490px">
<!-- logo1 -->
<g transform="translate(10,490) scale(0.125)">
<polygon points="305,65 495,275 495,300 305,525 110,335 105,270" fill="#2f4d95"/>
<polygon points="105,270 305,65 495,275 440,280 305,130 125,310 110,335" fill="#6f7d86"/>
<polygon points="305,195 400,280 305,392 205,300" fill="#fff"/>
<polygon points="175,325 205,300 305,392 400,280 440,280 440,300 305,460 " fill="#6f7d86"/>
<polygon points="305,195 400,280 305,392 205,300" fill="#fff"/>
</g>
<!-- logo2 -->
<g transform="translate(180,495) scale(0.11614)">
<polygon points="160,68 520,150 430,495 68,405" fill="#5f7fb5"/>
<polygon points="160,68 520,150 470,205 225,100" fill="#aab6d8"/>
<polygon points="225,100 470,205 435,232 265,148" fill="#8ea0cb"/>
<polygon points="160,68 225,100 120,345 68,405" fill="#9fb0d6"/>
<polygon points="225,100 265,148 170,300 120,345" fill="#6f8bbf"/>
<polygon points="68,405 120,345 360,440 430,495" fill="#5a7bb3"/>
<polygon points="120,345 170,300 325,400 360,440" fill="#2e5a99"/>
<polygon points="520,150 430,495 360,440 470,205" fill="#44699f"/>
<polygon points="470,205 360,440 325,400 435,232" fill="#1f4e8f"/>
<polygon points="265,148 435,232 325,400 170,300" fill="#fff"/>
</g>
</svg>
<div style="position:absolute;left:78px;top:509.5px;font-weight:bold;color:#2d4a9a;white-space:nowrap;font-size:15px;line-height:17px;letter-spacing:0.85px;">S<span style="font-size:11.4px">ILVERWOOD</span></div>
<div style="position:absolute;left:78px;top:524.5px;font-weight:bold;color:#5f6b73;white-space:nowrap;font-size:15px;line-height:17px;letter-spacing:0.85px;">V<span style="font-size:11.4px">ENTURES</span></div>
<div style="position:absolute;left:246px;top:522.5px;font-weight:bold;color:#6b6e78;white-space:nowrap;font-size:14.8px;line-height:17px;letter-spacing:0.52px;">S<span style="font-size:11px">ILVERWOOD</span> P<span style="font-size:11px">ARTNERS</span></div>
<div style="position:absolute;left:297.5px;top:541.6px;font-style:italic;color:#3b6ea5;white-space:nowrap;font-size:11px;line-height:13px;letter-spacing:0.28px;">Investment Bankers</div>

</body></html>
